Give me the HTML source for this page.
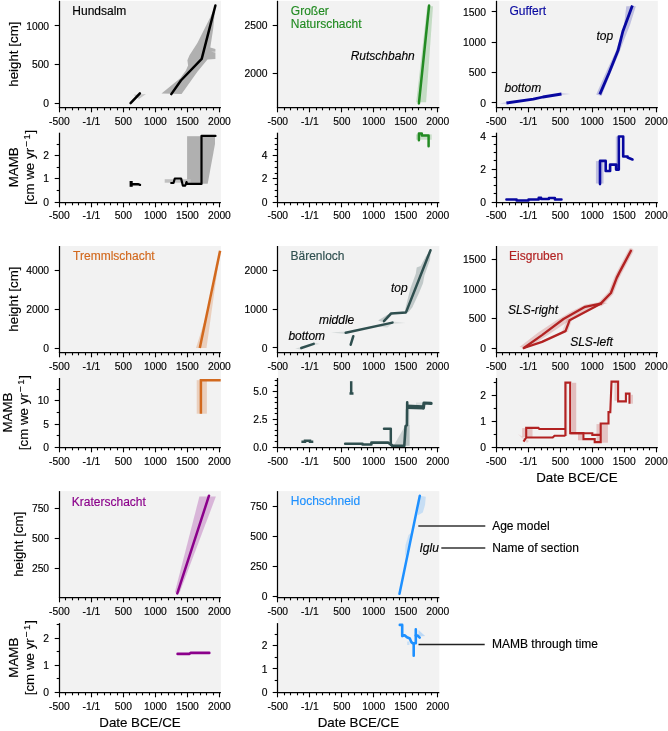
<!DOCTYPE html>
<html><head><meta charset="utf-8"><title>figure</title>
<style>
html,body{margin:0;padding:0;background:#fff;}
body{width:668px;height:731px;overflow:hidden;}
svg{display:block;font-family:"Liberation Sans", sans-serif;will-change:transform;}
</style></head><body>
<svg width="668" height="731" viewBox="0 0 668 731">
<rect x="0" y="0" width="668" height="731" fill="#fff"/>
<rect x="59.4" y="0.8" width="161.5" height="201.2" fill="#f2f2f2"/>
<rect x="277.8" y="0.8" width="161.5" height="201.2" fill="#f2f2f2"/>
<rect x="496.3" y="0.8" width="161.5" height="201.2" fill="#f2f2f2"/>
<rect x="59.4" y="246" width="161.5" height="201.2" fill="#f2f2f2"/>
<rect x="277.8" y="246" width="161.5" height="201.2" fill="#f2f2f2"/>
<rect x="496.3" y="246" width="161.5" height="201.2" fill="#f2f2f2"/>
<rect x="59.4" y="491.1" width="161.5" height="201.2" fill="#f2f2f2"/>
<rect x="277.8" y="491.1" width="161.5" height="201.2" fill="#f2f2f2"/>
<polygon points="161.5,93.4 180.2,78.3 185.9,70.4 188.1,65.4 187.4,60.3 189.5,55.3 197.4,43.1 210.3,17.2 215.4,5.5 213.2,28.7 210.3,47.4 215.4,48.9 215.4,51.7 211,51.7 215.4,52.4 215.4,58.9 207.5,59.6 197.4,71.8 183,92 181.6,94.1" fill="#b0b0b0"/>
<polygon points="133.5,94.8 146,93.9 139,99" fill="#c8c8c8"/>
<polyline points="130.6,103.2 139.9,93.3" fill="none" stroke="#000000" stroke-width="2.5" stroke-linecap="round" stroke-linejoin="round"/>
<polyline points="171.3,94.1 180.9,80.5 201.7,58.9 215.4,5.5" fill="none" stroke="#000000" stroke-width="2.5" stroke-linecap="round" stroke-linejoin="round"/>
<rect x="187.1" y="136.2" width="14.4" height="47.6" fill="#b0b0b0"/>
<polygon points="201.5,136 215,136 215,143.9 207.7,183.8 201.5,183.8" fill="#b0b0b0"/>
<rect x="164.7" y="179.2" width="25.9" height="3.5" fill="#c0c0c0"/>
<rect x="129.6" y="181" width="3.1" height="5.8" fill="#000000"/>
<polyline points="132,184.2 138,184.2 140,184.8" fill="none" stroke="#000000" stroke-width="2.4" stroke-linecap="round" stroke-linejoin="round"/>
<polyline points="171.2,183 173.5,183 174.8,178.5 181.1,178.5 182.9,185.7 185.2,185.7 186.5,182.1 187,183.9 201.5,183.9 201.5,135.9 215.5,135.9" fill="none" stroke="#000000" stroke-width="2.2" stroke-linecap="round" stroke-linejoin="round"/>
<text x="72.3" y="14.7" font-size="12" text-anchor="start" fill="#000" stroke="#000" stroke-width="0.15">Hundsalm</text>
<polygon points="416.2,102.2 426.1,102.2 433,6.3 427.2,6.3" fill="#228b22" fill-opacity="0.22"/>
<polyline points="418.9,103.4 429.1,5.5" fill="none" stroke="#228b22" stroke-width="2.5" stroke-linecap="round" stroke-linejoin="round"/>
<text x="290.8" y="15.4" font-size="12" text-anchor="start" fill="#228b22" stroke="#228b22" stroke-width="0.15">Gro&#223;er</text>
<text x="290.8" y="28.2" font-size="12" text-anchor="start" fill="#228b22" stroke="#228b22" stroke-width="0.15">Naturschacht</text>
<text x="350.7" y="60.2" font-size="12" text-anchor="start" fill="#000" font-style="italic" stroke="#000" stroke-width="0.15">Rutschbahn</text>
<rect x="416" y="134.4" width="15.7" height="5.3" fill="#228b22" fill-opacity="0.2"/>
<polyline points="418.9,140.2 418.9,133.6 421.8,133.6 421.8,135.5 428.6,135.5 428.6,146.2" fill="none" stroke="#228b22" stroke-width="2.5" stroke-linecap="round" stroke-linejoin="round"/>
<polygon points="499.8,103.6 506.4,102 506.4,104" fill="#0808a0" fill-opacity="0.15"/>
<polygon points="561.5,93 570.4,94 561.5,95" fill="#0808a0" fill-opacity="0.15"/>
<polyline points="506.4,103 533.3,99.1 542.9,97 561.5,94" fill="none" stroke="#0808a0" stroke-width="2.8" stroke-linecap="butt" stroke-linejoin="round"/>
<polygon points="626.3,6.2 635.8,6.2 630,25 624,40 619.5,52 611,72 601.5,96 596.2,94.4 607,70 615.5,52 621.5,34.2 624,25" fill="#0808a0" fill-opacity="0.22"/>
<polyline points="599.8,94.4 609.2,72.5 618,50.6 622.8,31.5 632.4,5.5" fill="none" stroke="#0808a0" stroke-width="2.8" stroke-linecap="butt" stroke-linejoin="round"/>
<text x="509.5" y="14.8" font-size="12" text-anchor="start" fill="#0808a0" stroke="#0808a0" stroke-width="0.15">Guffert</text>
<text x="504.5" y="92.2" font-size="12" text-anchor="start" fill="#000" font-style="italic" stroke="#000" stroke-width="0.15">bottom</text>
<text x="596.5" y="39.6" font-size="12" text-anchor="start" fill="#000" font-style="italic" stroke="#000" stroke-width="0.15">top</text>
<rect x="595.9" y="161.1" width="7.6" height="22.4" fill="#0808a0" fill-opacity="0.22"/>
<rect x="615.8" y="136.5" width="1.5" height="33.5" fill="#0808a0" fill-opacity="0.2"/>
<polyline points="600,184.1 600,160.9 605.7,160.9 605.7,171 610.1,171 610.1,164.6 616.1,164.6 616.1,169.6 618.8,169.6 618.8,136.5 623.2,136.5 623.2,156.5 627.6,156.5 627.6,157.5 632.5,159.5" fill="none" stroke="#0808a0" stroke-width="2.6" stroke-linecap="round" stroke-linejoin="round"/>
<polyline points="506.4,199.4 516.6,199.4 516.6,200.4 528.5,200.4 528.5,199.6 538.7,199.6 538.7,197.7 541.1,197.7 541.1,199 548.9,199 548.9,198.1 554.9,198.1 554.9,199.4 561.5,199.4" fill="none" stroke="#0808a0" stroke-width="2.5" stroke-linecap="round" stroke-linejoin="round"/>
<polygon points="196,348 206.5,348 215.6,283 220.1,251 211,300" fill="#d2691e" fill-opacity="0.25"/>
<polyline points="199.8,348 220.1,250.7" fill="none" stroke="#d2691e" stroke-width="2.5" stroke-linecap="butt" stroke-linejoin="round"/>
<text x="73.1" y="260" font-size="12" text-anchor="start" fill="#d2691e" stroke="#d2691e" stroke-width="0.15">Tremmlschacht</text>
<rect x="196.7" y="380.2" width="10.2" height="33.5" fill="#d2691e" fill-opacity="0.25"/>
<polyline points="200.9,413.7 200.9,380.2 220.7,380.2" fill="none" stroke="#d2691e" stroke-width="2.5" stroke-linecap="butt" stroke-linejoin="miter"/>
<polygon points="295.1,348.6 302,347 302,349.8" fill="#2f4f4f" fill-opacity="0.15"/>
<polygon points="313.5,342.6 319.8,343.9 313.5,345" fill="#2f4f4f" fill-opacity="0.15"/>
<polyline points="301.3,348 313.7,343.9" fill="none" stroke="#2f4f4f" stroke-width="2.5" stroke-linecap="round" stroke-linejoin="round"/>
<polygon points="331.1,332.4 345.7,331.4 345.7,334" fill="#2f4f4f" fill-opacity="0.15"/>
<polygon points="392.5,321.5 405.7,322.9 392.5,323.8" fill="#2f4f4f" fill-opacity="0.12"/>
<polygon points="378.1,320.6 387.4,314.8 404.9,311.3 405.7,307.2 410.5,288.1 415.8,273.7 416.7,267.5 420.6,266.1 425.8,256.5 430.6,250.3 430.1,259.4 427.8,266.1 424.4,275.6 423,283.3 419.1,292.8 412.4,307.2 408.6,312 393.3,313.6 387.4,319.4 381.6,321.7" fill="#2f4f4f" fill-opacity="0.25"/>
<polygon points="377,326.4 392,321.5 392,323.5 387.4,327.6" fill="#2f4f4f" fill-opacity="0.15"/>
<polyline points="345.7,332.8 392.5,322.6" fill="none" stroke="#2f4f4f" stroke-width="2.5" stroke-linecap="round" stroke-linejoin="round"/>
<polyline points="350.7,344.7 353.3,336.2" fill="none" stroke="#2f4f4f" stroke-width="2.5" stroke-linecap="round" stroke-linejoin="round"/>
<polyline points="384,321.2 390.9,313.6 406,312.4 430.5,250.2" fill="none" stroke="#2f4f4f" stroke-width="2.5" stroke-linecap="round" stroke-linejoin="round"/>
<text x="290.5" y="260" font-size="12" text-anchor="start" fill="#2f4f4f" stroke="#2f4f4f" stroke-width="0.15">B&#228;renloch</text>
<text x="288.4" y="340.2" font-size="12" text-anchor="start" fill="#000" font-style="italic" stroke="#000" stroke-width="0.15">bottom</text>
<text x="318.9" y="324.2" font-size="12" text-anchor="start" fill="#000" font-style="italic" stroke="#000" stroke-width="0.15">middle</text>
<text x="390.9" y="291.7" font-size="12" text-anchor="start" fill="#000" font-style="italic" stroke="#000" stroke-width="0.15">top</text>
<polygon points="393.5,445.8 405.6,425.1 409.6,425.1 409.6,445.8" fill="#2f4f4f" fill-opacity="0.2"/>
<rect x="405" y="409.4" width="4.6" height="36.4" fill="#2f4f4f" fill-opacity="0.12"/>
<rect x="416" y="402.5" width="8" height="2.5" fill="#2f4f4f" fill-opacity="0.12"/>
<polyline points="351.2,381.2 351.2,394" fill="none" stroke="#2f4f4f" stroke-width="2.5" stroke-linecap="butt" stroke-linejoin="round"/>
<polyline points="349.5,393.5 353.5,393.5" fill="none" stroke="#2f4f4f" stroke-width="2.5" stroke-linecap="butt" stroke-linejoin="round"/>
<polyline points="301.4,441.8 305,441.8 305,440.8 310,440.8 310,441.8 313.3,441.8" fill="none" stroke="#2f4f4f" stroke-width="2.5" stroke-linecap="butt" stroke-linejoin="miter"/>
<polyline points="345.2,443.8 362.5,443.8 362.5,444.5 371.4,444.5 371.4,442.6 388.1,442.6 392.1,445.8 404.3,445.8 405.6,426 407,425.1 407.2,402.4 407.2,406.5" fill="none" stroke="#2f4f4f" stroke-width="2.6" stroke-linecap="round" stroke-linejoin="round"/>
<polygon points="406.5,404.4 423.8,405.3 423.8,409.4 406.5,409" fill="#2f4f4f"/>
<polyline points="423.4,408 424,403 431.1,403.4" fill="none" stroke="#2f4f4f" stroke-width="3.2" stroke-linecap="round" stroke-linejoin="round"/>
<polyline points="384,428.7 390.8,428.7 390.8,444 392.6,445.8" fill="none" stroke="#2f4f4f" stroke-width="2.5" stroke-linecap="round" stroke-linejoin="round"/>
<polygon points="519.5,347.1 537.5,332.9 555.4,320.9 571.9,311.2 585.4,304.5 598.8,302.2 607.8,303 592.8,307.5 574.9,317.2 564.4,323.9 541.9,338.9 527,347.9" fill="#b22222" fill-opacity="0.2"/>
<polygon points="562,331.5 567,319 572,319.5 568,332" fill="#b22222" fill-opacity="0.15"/>
<polyline points="600.7,303.7 610.9,293 616.7,277.9 619.3,272.6 630.9,250.8" fill="none" stroke="#b22222" stroke-width="5" stroke-linecap="round" stroke-linejoin="round" stroke-opacity="0.2"/>
<polyline points="523.8,348 542,335.1 563.5,319 585.1,306.8 600.7,303.7" fill="none" stroke="#b22222" stroke-width="2.3" stroke-linecap="round" stroke-linejoin="round"/>
<polyline points="523.8,348 542,341.9 565.5,331.1 569.6,320.3 600.7,303.7" fill="none" stroke="#b22222" stroke-width="2.3" stroke-linecap="round" stroke-linejoin="round"/>
<polyline points="600.7,303.7 610.9,293 616.7,277.9 619.3,272.6 630.9,250.8" fill="none" stroke="#b22222" stroke-width="2.4" stroke-linecap="round" stroke-linejoin="round"/>
<text x="509.1" y="260.1" font-size="12" text-anchor="start" fill="#b22222" stroke="#b22222" stroke-width="0.15">Eisgruben</text>
<text x="508" y="313.9" font-size="12" text-anchor="start" fill="#000" font-style="italic" stroke="#000" stroke-width="0.15">SLS-right</text>
<text x="570.2" y="346" font-size="12" text-anchor="start" fill="#000" font-style="italic" stroke="#000" stroke-width="0.15">SLS-left</text>
<rect x="522.2" y="428.1" width="10.3" height="9" fill="#b22222" fill-opacity="0.22"/>
<polygon points="518,434 529,441 527,443" fill="#b22222" fill-opacity="0.15"/>
<rect x="564.8" y="382.6" width="2.4" height="53.4" fill="#b22222" fill-opacity="0.2"/>
<rect x="572" y="382.8" width="4.2" height="50.9" fill="#b22222" fill-opacity="0.25"/>
<rect x="578" y="433" width="4.2" height="7.3" fill="#b22222" fill-opacity="0.25"/>
<rect x="596.5" y="424.1" width="11.4" height="18.6" fill="#b22222" fill-opacity="0.22"/>
<rect x="614.5" y="381.6" width="2.4" height="19.2" fill="#b22222" fill-opacity="0.2"/>
<rect x="630.7" y="394.8" width="2.3" height="8.9" fill="#b22222" fill-opacity="0.2"/>
<polyline points="523.5,441.6 526.2,437.5 526.2,427.9 538.4,427.9 539.3,429 565.4,429" fill="none" stroke="#b22222" stroke-width="2.1" stroke-linecap="butt" stroke-linejoin="miter"/>
<polyline points="526.2,437.5 552.7,437.5 554.5,435.7 565.4,435.7" fill="none" stroke="#b22222" stroke-width="2.1" stroke-linecap="butt" stroke-linejoin="miter"/>
<polyline points="565.4,436 565.4,382.6 570.2,382.6 570.2,433.1 583.4,433.1 583.4,439.1 594.7,439.1 594.7,442.1 600.7,442.1 600.7,423.5 608.5,423.5 608.5,412.1 610.3,412.1 611.5,381.6 618.1,381.6 618.1,401.4 625.9,401.4 625.9,393.6 629.5,393.6 629.5,403.7" fill="none" stroke="#b22222" stroke-width="2.1" stroke-linecap="butt" stroke-linejoin="miter"/>
<polyline points="570.2,433.3 592.3,433.3 592.3,434.9 600.7,434.9" fill="none" stroke="#b22222" stroke-width="2.1" stroke-linecap="butt" stroke-linejoin="miter"/>
<polygon points="174.8,592.6 179.7,592.6 215.9,496.5 199.4,496.5" fill="#8b008b" fill-opacity="0.25"/>
<polyline points="177.3,593.4 209,495.7" fill="none" stroke="#8b008b" stroke-width="2.5" stroke-linecap="round" stroke-linejoin="round"/>
<text x="71.8" y="506.4" font-size="12" text-anchor="start" fill="#8b008b" stroke="#8b008b" stroke-width="0.15">Kraterschacht</text>
<polyline points="177.6,653.9 189.5,653.9 190.5,652.9 209.3,652.9" fill="none" stroke="#8b008b" stroke-width="2.6" stroke-linecap="round" stroke-linejoin="round"/>
<polygon points="419.8,495.7 425.8,496.8 425,505 422.8,512.6 417.6,515.6" fill="#1e90ff" fill-opacity="0.2"/>
<polygon points="411.2,533 408.5,535 405.5,545 404.8,557.2 409,545" fill="#1e90ff" fill-opacity="0.18"/>
<polyline points="399.5,593.8 419.8,495.7" fill="none" stroke="#1e90ff" stroke-width="2.5" stroke-linecap="round" stroke-linejoin="round"/>
<text x="290.8" y="504.5" font-size="12" text-anchor="start" fill="#1e90ff" stroke="#1e90ff" stroke-width="0.15">Hochschneid</text>
<text x="419.5" y="552.3" font-size="12" text-anchor="start" fill="#000" font-style="italic" stroke="#000" stroke-width="0.15">Iglu</text>
<line x1="418.3" y1="526" x2="485.3" y2="526" stroke="#333" stroke-width="1.5"/>
<line x1="441.3" y1="548.1" x2="485.3" y2="548.1" stroke="#333" stroke-width="1.5"/>
<text x="492.2" y="529.5" font-size="12" text-anchor="start" fill="#000" stroke="#000" stroke-width="0.15">Age model</text>
<text x="492.2" y="551.9" font-size="12" text-anchor="start" fill="#000" stroke="#000" stroke-width="0.15">Name of section</text>
<polygon points="418.5,630 425.1,636.1 418.5,636.5" fill="#1e90ff" fill-opacity="0.25"/>
<rect x="407.2" y="641.5" width="2.3" height="3.5" fill="#1e90ff" fill-opacity="0.2"/>
<polyline points="399.8,624.9 402.2,624.9 402.2,636.1 404.6,635.2 407,637.3 409.8,638.5 411.3,642.1 413.7,643.9 413.7,655.7" fill="none" stroke="#1e90ff" stroke-width="2.6" stroke-linecap="round" stroke-linejoin="round"/>
<polyline points="413.7,643.3 415.8,643.3 415.8,629.4" fill="none" stroke="#1e90ff" stroke-width="2.6" stroke-linecap="round" stroke-linejoin="round"/>
<polyline points="415.8,635.5 417.5,635.5 419.7,637.6" fill="none" stroke="#1e90ff" stroke-width="2.6" stroke-linecap="round" stroke-linejoin="round"/>
<line x1="418.5" y1="644.5" x2="484.7" y2="644.5" stroke="#222" stroke-width="1.4"/>
<text x="492" y="647.9" font-size="12" text-anchor="start" fill="#000" stroke="#000" stroke-width="0.15">MAMB through time</text>
<line x1="59.5" y1="0.8" x2="59.5" y2="108.1" stroke="#000" stroke-width="1.25"/>
<line x1="54.7" y1="103.5" x2="59.5" y2="103.5" stroke="#000" stroke-width="1.1"/>
<text x="49.1" y="106.7" font-size="10.3" text-anchor="end" fill="#000" stroke="#000" stroke-width="0.15">0</text>
<line x1="54.7" y1="64.5" x2="59.5" y2="64.5" stroke="#000" stroke-width="1.1"/>
<text x="49.1" y="68.1" font-size="10.3" text-anchor="end" fill="#000" stroke="#000" stroke-width="0.15">500</text>
<line x1="54.7" y1="25.5" x2="59.5" y2="25.5" stroke="#000" stroke-width="1.1"/>
<text x="49.1" y="29.5" font-size="10.3" text-anchor="end" fill="#000" stroke="#000" stroke-width="0.15">1000</text>
<line x1="58.9" y1="107.5" x2="220.9" y2="107.5" stroke="#000" stroke-width="1.25"/>
<line x1="59.5" y1="107.5" x2="59.5" y2="112.3" stroke="#000" stroke-width="1.1"/>
<line x1="65.5" y1="107.5" x2="65.5" y2="110.3" stroke="#000" stroke-width="1.1"/>
<line x1="72.5" y1="107.5" x2="72.5" y2="110.3" stroke="#000" stroke-width="1.1"/>
<line x1="78.5" y1="107.5" x2="78.5" y2="110.3" stroke="#000" stroke-width="1.1"/>
<line x1="85.5" y1="107.5" x2="85.5" y2="110.3" stroke="#000" stroke-width="1.1"/>
<line x1="91.5" y1="107.5" x2="91.5" y2="112.3" stroke="#000" stroke-width="1.1"/>
<line x1="97.5" y1="107.5" x2="97.5" y2="110.3" stroke="#000" stroke-width="1.1"/>
<line x1="104.5" y1="107.5" x2="104.5" y2="110.3" stroke="#000" stroke-width="1.1"/>
<line x1="110.5" y1="107.5" x2="110.5" y2="110.3" stroke="#000" stroke-width="1.1"/>
<line x1="117.5" y1="107.5" x2="117.5" y2="110.3" stroke="#000" stroke-width="1.1"/>
<line x1="123.5" y1="107.5" x2="123.5" y2="112.3" stroke="#000" stroke-width="1.1"/>
<line x1="129.5" y1="107.5" x2="129.5" y2="110.3" stroke="#000" stroke-width="1.1"/>
<line x1="136.5" y1="107.5" x2="136.5" y2="110.3" stroke="#000" stroke-width="1.1"/>
<line x1="142.5" y1="107.5" x2="142.5" y2="110.3" stroke="#000" stroke-width="1.1"/>
<line x1="149.5" y1="107.5" x2="149.5" y2="110.3" stroke="#000" stroke-width="1.1"/>
<line x1="155.5" y1="107.5" x2="155.5" y2="112.3" stroke="#000" stroke-width="1.1"/>
<line x1="161.5" y1="107.5" x2="161.5" y2="110.3" stroke="#000" stroke-width="1.1"/>
<line x1="168.5" y1="107.5" x2="168.5" y2="110.3" stroke="#000" stroke-width="1.1"/>
<line x1="174.5" y1="107.5" x2="174.5" y2="110.3" stroke="#000" stroke-width="1.1"/>
<line x1="181.5" y1="107.5" x2="181.5" y2="110.3" stroke="#000" stroke-width="1.1"/>
<line x1="187.5" y1="107.5" x2="187.5" y2="112.3" stroke="#000" stroke-width="1.1"/>
<line x1="193.5" y1="107.5" x2="193.5" y2="110.3" stroke="#000" stroke-width="1.1"/>
<line x1="200.5" y1="107.5" x2="200.5" y2="110.3" stroke="#000" stroke-width="1.1"/>
<line x1="206.5" y1="107.5" x2="206.5" y2="110.3" stroke="#000" stroke-width="1.1"/>
<line x1="213.5" y1="107.5" x2="213.5" y2="110.3" stroke="#000" stroke-width="1.1"/>
<line x1="219.5" y1="107.5" x2="219.5" y2="112.3" stroke="#000" stroke-width="1.1"/>
<text x="59.4" y="124.7" font-size="10.3" text-anchor="middle" fill="#000" stroke="#000" stroke-width="0.15">-500</text>
<text x="91.4" y="124.7" font-size="10.3" text-anchor="middle" fill="#000" stroke="#000" stroke-width="0.15">-1/1</text>
<text x="123.4" y="124.7" font-size="10.3" text-anchor="middle" fill="#000" stroke="#000" stroke-width="0.15">500</text>
<text x="155.4" y="124.7" font-size="10.3" text-anchor="middle" fill="#000" stroke="#000" stroke-width="0.15">1000</text>
<text x="187.4" y="124.7" font-size="10.3" text-anchor="middle" fill="#000" stroke="#000" stroke-width="0.15">1500</text>
<text x="219.4" y="124.7" font-size="10.3" text-anchor="middle" fill="#000" stroke="#000" stroke-width="0.15">2000</text>
<line x1="59.5" y1="132.7" x2="59.5" y2="203.1" stroke="#000" stroke-width="1.25"/>
<line x1="54.7" y1="202.5" x2="59.5" y2="202.5" stroke="#000" stroke-width="1.1"/>
<text x="49.1" y="205.6" font-size="10.3" text-anchor="end" fill="#000" stroke="#000" stroke-width="0.15">0</text>
<line x1="54.7" y1="178.5" x2="59.5" y2="178.5" stroke="#000" stroke-width="1.1"/>
<text x="49.1" y="182.4" font-size="10.3" text-anchor="end" fill="#000" stroke="#000" stroke-width="0.15">1</text>
<line x1="54.7" y1="155.5" x2="59.5" y2="155.5" stroke="#000" stroke-width="1.1"/>
<text x="49.1" y="159.2" font-size="10.3" text-anchor="end" fill="#000" stroke="#000" stroke-width="0.15">2</text>
<line x1="56.7" y1="190.5" x2="59.5" y2="190.5" stroke="#000" stroke-width="1.1"/>
<line x1="56.7" y1="167.5" x2="59.5" y2="167.5" stroke="#000" stroke-width="1.1"/>
<line x1="56.7" y1="144.5" x2="59.5" y2="144.5" stroke="#000" stroke-width="1.1"/>
<line x1="58.9" y1="202.5" x2="220.9" y2="202.5" stroke="#000" stroke-width="1.25"/>
<line x1="59.5" y1="202.5" x2="59.5" y2="207.3" stroke="#000" stroke-width="1.1"/>
<line x1="65.5" y1="202.5" x2="65.5" y2="205.3" stroke="#000" stroke-width="1.1"/>
<line x1="72.5" y1="202.5" x2="72.5" y2="205.3" stroke="#000" stroke-width="1.1"/>
<line x1="78.5" y1="202.5" x2="78.5" y2="205.3" stroke="#000" stroke-width="1.1"/>
<line x1="85.5" y1="202.5" x2="85.5" y2="205.3" stroke="#000" stroke-width="1.1"/>
<line x1="91.5" y1="202.5" x2="91.5" y2="207.3" stroke="#000" stroke-width="1.1"/>
<line x1="97.5" y1="202.5" x2="97.5" y2="205.3" stroke="#000" stroke-width="1.1"/>
<line x1="104.5" y1="202.5" x2="104.5" y2="205.3" stroke="#000" stroke-width="1.1"/>
<line x1="110.5" y1="202.5" x2="110.5" y2="205.3" stroke="#000" stroke-width="1.1"/>
<line x1="117.5" y1="202.5" x2="117.5" y2="205.3" stroke="#000" stroke-width="1.1"/>
<line x1="123.5" y1="202.5" x2="123.5" y2="207.3" stroke="#000" stroke-width="1.1"/>
<line x1="129.5" y1="202.5" x2="129.5" y2="205.3" stroke="#000" stroke-width="1.1"/>
<line x1="136.5" y1="202.5" x2="136.5" y2="205.3" stroke="#000" stroke-width="1.1"/>
<line x1="142.5" y1="202.5" x2="142.5" y2="205.3" stroke="#000" stroke-width="1.1"/>
<line x1="149.5" y1="202.5" x2="149.5" y2="205.3" stroke="#000" stroke-width="1.1"/>
<line x1="155.5" y1="202.5" x2="155.5" y2="207.3" stroke="#000" stroke-width="1.1"/>
<line x1="161.5" y1="202.5" x2="161.5" y2="205.3" stroke="#000" stroke-width="1.1"/>
<line x1="168.5" y1="202.5" x2="168.5" y2="205.3" stroke="#000" stroke-width="1.1"/>
<line x1="174.5" y1="202.5" x2="174.5" y2="205.3" stroke="#000" stroke-width="1.1"/>
<line x1="181.5" y1="202.5" x2="181.5" y2="205.3" stroke="#000" stroke-width="1.1"/>
<line x1="187.5" y1="202.5" x2="187.5" y2="207.3" stroke="#000" stroke-width="1.1"/>
<line x1="193.5" y1="202.5" x2="193.5" y2="205.3" stroke="#000" stroke-width="1.1"/>
<line x1="200.5" y1="202.5" x2="200.5" y2="205.3" stroke="#000" stroke-width="1.1"/>
<line x1="206.5" y1="202.5" x2="206.5" y2="205.3" stroke="#000" stroke-width="1.1"/>
<line x1="213.5" y1="202.5" x2="213.5" y2="205.3" stroke="#000" stroke-width="1.1"/>
<line x1="219.5" y1="202.5" x2="219.5" y2="207.3" stroke="#000" stroke-width="1.1"/>
<text x="59.4" y="219.2" font-size="10.3" text-anchor="middle" fill="#000" stroke="#000" stroke-width="0.15">-500</text>
<text x="91.4" y="219.2" font-size="10.3" text-anchor="middle" fill="#000" stroke="#000" stroke-width="0.15">-1/1</text>
<text x="123.4" y="219.2" font-size="10.3" text-anchor="middle" fill="#000" stroke="#000" stroke-width="0.15">500</text>
<text x="155.4" y="219.2" font-size="10.3" text-anchor="middle" fill="#000" stroke="#000" stroke-width="0.15">1000</text>
<text x="187.4" y="219.2" font-size="10.3" text-anchor="middle" fill="#000" stroke="#000" stroke-width="0.15">1500</text>
<text x="219.4" y="219.2" font-size="10.3" text-anchor="middle" fill="#000" stroke="#000" stroke-width="0.15">2000</text>
<line x1="277.5" y1="0.8" x2="277.5" y2="108.1" stroke="#000" stroke-width="1.25"/>
<line x1="272.7" y1="73.5" x2="277.5" y2="73.5" stroke="#000" stroke-width="1.1"/>
<text x="267.5" y="77.4" font-size="10.3" text-anchor="end" fill="#000" stroke="#000" stroke-width="0.15">2000</text>
<line x1="272.7" y1="25.5" x2="277.5" y2="25.5" stroke="#000" stroke-width="1.1"/>
<text x="267.5" y="28.8" font-size="10.3" text-anchor="end" fill="#000" stroke="#000" stroke-width="0.15">2500</text>
<line x1="276.9" y1="107.5" x2="439.3" y2="107.5" stroke="#000" stroke-width="1.25"/>
<line x1="277.5" y1="107.5" x2="277.5" y2="112.3" stroke="#000" stroke-width="1.1"/>
<line x1="284.5" y1="107.5" x2="284.5" y2="110.3" stroke="#000" stroke-width="1.1"/>
<line x1="290.5" y1="107.5" x2="290.5" y2="110.3" stroke="#000" stroke-width="1.1"/>
<line x1="297.5" y1="107.5" x2="297.5" y2="110.3" stroke="#000" stroke-width="1.1"/>
<line x1="303.5" y1="107.5" x2="303.5" y2="110.3" stroke="#000" stroke-width="1.1"/>
<line x1="309.5" y1="107.5" x2="309.5" y2="112.3" stroke="#000" stroke-width="1.1"/>
<line x1="316.5" y1="107.5" x2="316.5" y2="110.3" stroke="#000" stroke-width="1.1"/>
<line x1="322.5" y1="107.5" x2="322.5" y2="110.3" stroke="#000" stroke-width="1.1"/>
<line x1="329.5" y1="107.5" x2="329.5" y2="110.3" stroke="#000" stroke-width="1.1"/>
<line x1="335.5" y1="107.5" x2="335.5" y2="110.3" stroke="#000" stroke-width="1.1"/>
<line x1="341.5" y1="107.5" x2="341.5" y2="112.3" stroke="#000" stroke-width="1.1"/>
<line x1="348.5" y1="107.5" x2="348.5" y2="110.3" stroke="#000" stroke-width="1.1"/>
<line x1="354.5" y1="107.5" x2="354.5" y2="110.3" stroke="#000" stroke-width="1.1"/>
<line x1="361.5" y1="107.5" x2="361.5" y2="110.3" stroke="#000" stroke-width="1.1"/>
<line x1="367.5" y1="107.5" x2="367.5" y2="110.3" stroke="#000" stroke-width="1.1"/>
<line x1="373.5" y1="107.5" x2="373.5" y2="112.3" stroke="#000" stroke-width="1.1"/>
<line x1="380.5" y1="107.5" x2="380.5" y2="110.3" stroke="#000" stroke-width="1.1"/>
<line x1="386.5" y1="107.5" x2="386.5" y2="110.3" stroke="#000" stroke-width="1.1"/>
<line x1="393.5" y1="107.5" x2="393.5" y2="110.3" stroke="#000" stroke-width="1.1"/>
<line x1="399.5" y1="107.5" x2="399.5" y2="110.3" stroke="#000" stroke-width="1.1"/>
<line x1="405.5" y1="107.5" x2="405.5" y2="112.3" stroke="#000" stroke-width="1.1"/>
<line x1="412.5" y1="107.5" x2="412.5" y2="110.3" stroke="#000" stroke-width="1.1"/>
<line x1="418.5" y1="107.5" x2="418.5" y2="110.3" stroke="#000" stroke-width="1.1"/>
<line x1="425.5" y1="107.5" x2="425.5" y2="110.3" stroke="#000" stroke-width="1.1"/>
<line x1="431.5" y1="107.5" x2="431.5" y2="110.3" stroke="#000" stroke-width="1.1"/>
<line x1="437.5" y1="107.5" x2="437.5" y2="112.3" stroke="#000" stroke-width="1.1"/>
<text x="277.8" y="124.7" font-size="10.3" text-anchor="middle" fill="#000" stroke="#000" stroke-width="0.15">-500</text>
<text x="309.8" y="124.7" font-size="10.3" text-anchor="middle" fill="#000" stroke="#000" stroke-width="0.15">-1/1</text>
<text x="341.8" y="124.7" font-size="10.3" text-anchor="middle" fill="#000" stroke="#000" stroke-width="0.15">500</text>
<text x="373.8" y="124.7" font-size="10.3" text-anchor="middle" fill="#000" stroke="#000" stroke-width="0.15">1000</text>
<text x="405.8" y="124.7" font-size="10.3" text-anchor="middle" fill="#000" stroke="#000" stroke-width="0.15">1500</text>
<text x="437.8" y="124.7" font-size="10.3" text-anchor="middle" fill="#000" stroke="#000" stroke-width="0.15">2000</text>
<line x1="277.5" y1="132.7" x2="277.5" y2="203.1" stroke="#000" stroke-width="1.25"/>
<line x1="272.7" y1="202.5" x2="277.5" y2="202.5" stroke="#000" stroke-width="1.1"/>
<text x="267.5" y="205.6" font-size="10.3" text-anchor="end" fill="#000" stroke="#000" stroke-width="0.15">0</text>
<line x1="272.7" y1="178.5" x2="277.5" y2="178.5" stroke="#000" stroke-width="1.1"/>
<text x="267.5" y="182.4" font-size="10.3" text-anchor="end" fill="#000" stroke="#000" stroke-width="0.15">2</text>
<line x1="272.7" y1="155.5" x2="277.5" y2="155.5" stroke="#000" stroke-width="1.1"/>
<text x="267.5" y="159.2" font-size="10.3" text-anchor="end" fill="#000" stroke="#000" stroke-width="0.15">4</text>
<line x1="274.7" y1="196.5" x2="277.5" y2="196.5" stroke="#000" stroke-width="1.1"/>
<line x1="274.7" y1="190.5" x2="277.5" y2="190.5" stroke="#000" stroke-width="1.1"/>
<line x1="274.7" y1="184.5" x2="277.5" y2="184.5" stroke="#000" stroke-width="1.1"/>
<line x1="274.7" y1="173.5" x2="277.5" y2="173.5" stroke="#000" stroke-width="1.1"/>
<line x1="274.7" y1="167.5" x2="277.5" y2="167.5" stroke="#000" stroke-width="1.1"/>
<line x1="274.7" y1="161.5" x2="277.5" y2="161.5" stroke="#000" stroke-width="1.1"/>
<line x1="274.7" y1="149.5" x2="277.5" y2="149.5" stroke="#000" stroke-width="1.1"/>
<line x1="274.7" y1="144.5" x2="277.5" y2="144.5" stroke="#000" stroke-width="1.1"/>
<line x1="274.7" y1="138.5" x2="277.5" y2="138.5" stroke="#000" stroke-width="1.1"/>
<line x1="276.9" y1="202.5" x2="439.3" y2="202.5" stroke="#000" stroke-width="1.25"/>
<line x1="277.5" y1="202.5" x2="277.5" y2="207.3" stroke="#000" stroke-width="1.1"/>
<line x1="284.5" y1="202.5" x2="284.5" y2="205.3" stroke="#000" stroke-width="1.1"/>
<line x1="290.5" y1="202.5" x2="290.5" y2="205.3" stroke="#000" stroke-width="1.1"/>
<line x1="297.5" y1="202.5" x2="297.5" y2="205.3" stroke="#000" stroke-width="1.1"/>
<line x1="303.5" y1="202.5" x2="303.5" y2="205.3" stroke="#000" stroke-width="1.1"/>
<line x1="309.5" y1="202.5" x2="309.5" y2="207.3" stroke="#000" stroke-width="1.1"/>
<line x1="316.5" y1="202.5" x2="316.5" y2="205.3" stroke="#000" stroke-width="1.1"/>
<line x1="322.5" y1="202.5" x2="322.5" y2="205.3" stroke="#000" stroke-width="1.1"/>
<line x1="329.5" y1="202.5" x2="329.5" y2="205.3" stroke="#000" stroke-width="1.1"/>
<line x1="335.5" y1="202.5" x2="335.5" y2="205.3" stroke="#000" stroke-width="1.1"/>
<line x1="341.5" y1="202.5" x2="341.5" y2="207.3" stroke="#000" stroke-width="1.1"/>
<line x1="348.5" y1="202.5" x2="348.5" y2="205.3" stroke="#000" stroke-width="1.1"/>
<line x1="354.5" y1="202.5" x2="354.5" y2="205.3" stroke="#000" stroke-width="1.1"/>
<line x1="361.5" y1="202.5" x2="361.5" y2="205.3" stroke="#000" stroke-width="1.1"/>
<line x1="367.5" y1="202.5" x2="367.5" y2="205.3" stroke="#000" stroke-width="1.1"/>
<line x1="373.5" y1="202.5" x2="373.5" y2="207.3" stroke="#000" stroke-width="1.1"/>
<line x1="380.5" y1="202.5" x2="380.5" y2="205.3" stroke="#000" stroke-width="1.1"/>
<line x1="386.5" y1="202.5" x2="386.5" y2="205.3" stroke="#000" stroke-width="1.1"/>
<line x1="393.5" y1="202.5" x2="393.5" y2="205.3" stroke="#000" stroke-width="1.1"/>
<line x1="399.5" y1="202.5" x2="399.5" y2="205.3" stroke="#000" stroke-width="1.1"/>
<line x1="405.5" y1="202.5" x2="405.5" y2="207.3" stroke="#000" stroke-width="1.1"/>
<line x1="412.5" y1="202.5" x2="412.5" y2="205.3" stroke="#000" stroke-width="1.1"/>
<line x1="418.5" y1="202.5" x2="418.5" y2="205.3" stroke="#000" stroke-width="1.1"/>
<line x1="425.5" y1="202.5" x2="425.5" y2="205.3" stroke="#000" stroke-width="1.1"/>
<line x1="431.5" y1="202.5" x2="431.5" y2="205.3" stroke="#000" stroke-width="1.1"/>
<line x1="437.5" y1="202.5" x2="437.5" y2="207.3" stroke="#000" stroke-width="1.1"/>
<text x="277.8" y="219.2" font-size="10.3" text-anchor="middle" fill="#000" stroke="#000" stroke-width="0.15">-500</text>
<text x="309.8" y="219.2" font-size="10.3" text-anchor="middle" fill="#000" stroke="#000" stroke-width="0.15">-1/1</text>
<text x="341.8" y="219.2" font-size="10.3" text-anchor="middle" fill="#000" stroke="#000" stroke-width="0.15">500</text>
<text x="373.8" y="219.2" font-size="10.3" text-anchor="middle" fill="#000" stroke="#000" stroke-width="0.15">1000</text>
<text x="405.8" y="219.2" font-size="10.3" text-anchor="middle" fill="#000" stroke="#000" stroke-width="0.15">1500</text>
<text x="437.8" y="219.2" font-size="10.3" text-anchor="middle" fill="#000" stroke="#000" stroke-width="0.15">2000</text>
<line x1="496.5" y1="0.8" x2="496.5" y2="108.1" stroke="#000" stroke-width="1.25"/>
<line x1="491.7" y1="102.5" x2="496.5" y2="102.5" stroke="#000" stroke-width="1.1"/>
<text x="486" y="106.5" font-size="10.3" text-anchor="end" fill="#000" stroke="#000" stroke-width="0.15">0</text>
<line x1="491.7" y1="72.5" x2="496.5" y2="72.5" stroke="#000" stroke-width="1.1"/>
<text x="486" y="76.17" font-size="10.3" text-anchor="end" fill="#000" stroke="#000" stroke-width="0.15">500</text>
<line x1="491.7" y1="42.5" x2="496.5" y2="42.5" stroke="#000" stroke-width="1.1"/>
<text x="486" y="45.83" font-size="10.3" text-anchor="end" fill="#000" stroke="#000" stroke-width="0.15">1000</text>
<line x1="491.7" y1="11.5" x2="496.5" y2="11.5" stroke="#000" stroke-width="1.1"/>
<text x="486" y="15.5" font-size="10.3" text-anchor="end" fill="#000" stroke="#000" stroke-width="0.15">1500</text>
<line x1="495.9" y1="107.5" x2="657.8" y2="107.5" stroke="#000" stroke-width="1.25"/>
<line x1="496.5" y1="107.5" x2="496.5" y2="112.3" stroke="#000" stroke-width="1.1"/>
<line x1="502.5" y1="107.5" x2="502.5" y2="110.3" stroke="#000" stroke-width="1.1"/>
<line x1="509.5" y1="107.5" x2="509.5" y2="110.3" stroke="#000" stroke-width="1.1"/>
<line x1="515.5" y1="107.5" x2="515.5" y2="110.3" stroke="#000" stroke-width="1.1"/>
<line x1="521.5" y1="107.5" x2="521.5" y2="110.3" stroke="#000" stroke-width="1.1"/>
<line x1="528.5" y1="107.5" x2="528.5" y2="112.3" stroke="#000" stroke-width="1.1"/>
<line x1="534.5" y1="107.5" x2="534.5" y2="110.3" stroke="#000" stroke-width="1.1"/>
<line x1="541.5" y1="107.5" x2="541.5" y2="110.3" stroke="#000" stroke-width="1.1"/>
<line x1="547.5" y1="107.5" x2="547.5" y2="110.3" stroke="#000" stroke-width="1.1"/>
<line x1="553.5" y1="107.5" x2="553.5" y2="110.3" stroke="#000" stroke-width="1.1"/>
<line x1="560.5" y1="107.5" x2="560.5" y2="112.3" stroke="#000" stroke-width="1.1"/>
<line x1="566.5" y1="107.5" x2="566.5" y2="110.3" stroke="#000" stroke-width="1.1"/>
<line x1="573.5" y1="107.5" x2="573.5" y2="110.3" stroke="#000" stroke-width="1.1"/>
<line x1="579.5" y1="107.5" x2="579.5" y2="110.3" stroke="#000" stroke-width="1.1"/>
<line x1="585.5" y1="107.5" x2="585.5" y2="110.3" stroke="#000" stroke-width="1.1"/>
<line x1="592.5" y1="107.5" x2="592.5" y2="112.3" stroke="#000" stroke-width="1.1"/>
<line x1="598.5" y1="107.5" x2="598.5" y2="110.3" stroke="#000" stroke-width="1.1"/>
<line x1="605.5" y1="107.5" x2="605.5" y2="110.3" stroke="#000" stroke-width="1.1"/>
<line x1="611.5" y1="107.5" x2="611.5" y2="110.3" stroke="#000" stroke-width="1.1"/>
<line x1="617.5" y1="107.5" x2="617.5" y2="110.3" stroke="#000" stroke-width="1.1"/>
<line x1="624.5" y1="107.5" x2="624.5" y2="112.3" stroke="#000" stroke-width="1.1"/>
<line x1="630.5" y1="107.5" x2="630.5" y2="110.3" stroke="#000" stroke-width="1.1"/>
<line x1="637.5" y1="107.5" x2="637.5" y2="110.3" stroke="#000" stroke-width="1.1"/>
<line x1="643.5" y1="107.5" x2="643.5" y2="110.3" stroke="#000" stroke-width="1.1"/>
<line x1="649.5" y1="107.5" x2="649.5" y2="110.3" stroke="#000" stroke-width="1.1"/>
<line x1="656.5" y1="107.5" x2="656.5" y2="112.3" stroke="#000" stroke-width="1.1"/>
<text x="496.3" y="124.7" font-size="10.3" text-anchor="middle" fill="#000" stroke="#000" stroke-width="0.15">-500</text>
<text x="528.3" y="124.7" font-size="10.3" text-anchor="middle" fill="#000" stroke="#000" stroke-width="0.15">-1/1</text>
<text x="560.3" y="124.7" font-size="10.3" text-anchor="middle" fill="#000" stroke="#000" stroke-width="0.15">500</text>
<text x="592.3" y="124.7" font-size="10.3" text-anchor="middle" fill="#000" stroke="#000" stroke-width="0.15">1000</text>
<text x="624.3" y="124.7" font-size="10.3" text-anchor="middle" fill="#000" stroke="#000" stroke-width="0.15">1500</text>
<text x="656.3" y="124.7" font-size="10.3" text-anchor="middle" fill="#000" stroke="#000" stroke-width="0.15">2000</text>
<line x1="496.5" y1="132.7" x2="496.5" y2="203.1" stroke="#000" stroke-width="1.25"/>
<line x1="491.7" y1="202.5" x2="496.5" y2="202.5" stroke="#000" stroke-width="1.1"/>
<text x="486" y="205.6" font-size="10.3" text-anchor="end" fill="#000" stroke="#000" stroke-width="0.15">0</text>
<line x1="491.7" y1="169.5" x2="496.5" y2="169.5" stroke="#000" stroke-width="1.1"/>
<text x="486" y="172.7" font-size="10.3" text-anchor="end" fill="#000" stroke="#000" stroke-width="0.15">2</text>
<line x1="491.7" y1="136.5" x2="496.5" y2="136.5" stroke="#000" stroke-width="1.1"/>
<text x="486" y="139.8" font-size="10.3" text-anchor="end" fill="#000" stroke="#000" stroke-width="0.15">4</text>
<line x1="493.7" y1="193.5" x2="496.5" y2="193.5" stroke="#000" stroke-width="1.1"/>
<line x1="493.7" y1="185.5" x2="496.5" y2="185.5" stroke="#000" stroke-width="1.1"/>
<line x1="493.7" y1="177.5" x2="496.5" y2="177.5" stroke="#000" stroke-width="1.1"/>
<line x1="493.7" y1="160.5" x2="496.5" y2="160.5" stroke="#000" stroke-width="1.1"/>
<line x1="493.7" y1="152.5" x2="496.5" y2="152.5" stroke="#000" stroke-width="1.1"/>
<line x1="493.7" y1="144.5" x2="496.5" y2="144.5" stroke="#000" stroke-width="1.1"/>
<line x1="495.9" y1="202.5" x2="657.8" y2="202.5" stroke="#000" stroke-width="1.25"/>
<line x1="496.5" y1="202.5" x2="496.5" y2="207.3" stroke="#000" stroke-width="1.1"/>
<line x1="502.5" y1="202.5" x2="502.5" y2="205.3" stroke="#000" stroke-width="1.1"/>
<line x1="509.5" y1="202.5" x2="509.5" y2="205.3" stroke="#000" stroke-width="1.1"/>
<line x1="515.5" y1="202.5" x2="515.5" y2="205.3" stroke="#000" stroke-width="1.1"/>
<line x1="521.5" y1="202.5" x2="521.5" y2="205.3" stroke="#000" stroke-width="1.1"/>
<line x1="528.5" y1="202.5" x2="528.5" y2="207.3" stroke="#000" stroke-width="1.1"/>
<line x1="534.5" y1="202.5" x2="534.5" y2="205.3" stroke="#000" stroke-width="1.1"/>
<line x1="541.5" y1="202.5" x2="541.5" y2="205.3" stroke="#000" stroke-width="1.1"/>
<line x1="547.5" y1="202.5" x2="547.5" y2="205.3" stroke="#000" stroke-width="1.1"/>
<line x1="553.5" y1="202.5" x2="553.5" y2="205.3" stroke="#000" stroke-width="1.1"/>
<line x1="560.5" y1="202.5" x2="560.5" y2="207.3" stroke="#000" stroke-width="1.1"/>
<line x1="566.5" y1="202.5" x2="566.5" y2="205.3" stroke="#000" stroke-width="1.1"/>
<line x1="573.5" y1="202.5" x2="573.5" y2="205.3" stroke="#000" stroke-width="1.1"/>
<line x1="579.5" y1="202.5" x2="579.5" y2="205.3" stroke="#000" stroke-width="1.1"/>
<line x1="585.5" y1="202.5" x2="585.5" y2="205.3" stroke="#000" stroke-width="1.1"/>
<line x1="592.5" y1="202.5" x2="592.5" y2="207.3" stroke="#000" stroke-width="1.1"/>
<line x1="598.5" y1="202.5" x2="598.5" y2="205.3" stroke="#000" stroke-width="1.1"/>
<line x1="605.5" y1="202.5" x2="605.5" y2="205.3" stroke="#000" stroke-width="1.1"/>
<line x1="611.5" y1="202.5" x2="611.5" y2="205.3" stroke="#000" stroke-width="1.1"/>
<line x1="617.5" y1="202.5" x2="617.5" y2="205.3" stroke="#000" stroke-width="1.1"/>
<line x1="624.5" y1="202.5" x2="624.5" y2="207.3" stroke="#000" stroke-width="1.1"/>
<line x1="630.5" y1="202.5" x2="630.5" y2="205.3" stroke="#000" stroke-width="1.1"/>
<line x1="637.5" y1="202.5" x2="637.5" y2="205.3" stroke="#000" stroke-width="1.1"/>
<line x1="643.5" y1="202.5" x2="643.5" y2="205.3" stroke="#000" stroke-width="1.1"/>
<line x1="649.5" y1="202.5" x2="649.5" y2="205.3" stroke="#000" stroke-width="1.1"/>
<line x1="656.5" y1="202.5" x2="656.5" y2="207.3" stroke="#000" stroke-width="1.1"/>
<text x="496.3" y="219.2" font-size="10.3" text-anchor="middle" fill="#000" stroke="#000" stroke-width="0.15">-500</text>
<text x="528.3" y="219.2" font-size="10.3" text-anchor="middle" fill="#000" stroke="#000" stroke-width="0.15">-1/1</text>
<text x="560.3" y="219.2" font-size="10.3" text-anchor="middle" fill="#000" stroke="#000" stroke-width="0.15">500</text>
<text x="592.3" y="219.2" font-size="10.3" text-anchor="middle" fill="#000" stroke="#000" stroke-width="0.15">1000</text>
<text x="624.3" y="219.2" font-size="10.3" text-anchor="middle" fill="#000" stroke="#000" stroke-width="0.15">1500</text>
<text x="656.3" y="219.2" font-size="10.3" text-anchor="middle" fill="#000" stroke="#000" stroke-width="0.15">2000</text>
<line x1="59.5" y1="246" x2="59.5" y2="353.1" stroke="#000" stroke-width="1.25"/>
<line x1="54.7" y1="348.5" x2="59.5" y2="348.5" stroke="#000" stroke-width="1.1"/>
<text x="49.1" y="351.6" font-size="10.3" text-anchor="end" fill="#000" stroke="#000" stroke-width="0.15">0</text>
<line x1="54.7" y1="309.5" x2="59.5" y2="309.5" stroke="#000" stroke-width="1.1"/>
<text x="49.1" y="312.8" font-size="10.3" text-anchor="end" fill="#000" stroke="#000" stroke-width="0.15">2000</text>
<line x1="54.7" y1="270.5" x2="59.5" y2="270.5" stroke="#000" stroke-width="1.1"/>
<text x="49.1" y="274" font-size="10.3" text-anchor="end" fill="#000" stroke="#000" stroke-width="0.15">4000</text>
<line x1="58.9" y1="352.5" x2="220.9" y2="352.5" stroke="#000" stroke-width="1.25"/>
<line x1="59.5" y1="352.5" x2="59.5" y2="357.3" stroke="#000" stroke-width="1.1"/>
<line x1="65.5" y1="352.5" x2="65.5" y2="355.3" stroke="#000" stroke-width="1.1"/>
<line x1="72.5" y1="352.5" x2="72.5" y2="355.3" stroke="#000" stroke-width="1.1"/>
<line x1="78.5" y1="352.5" x2="78.5" y2="355.3" stroke="#000" stroke-width="1.1"/>
<line x1="85.5" y1="352.5" x2="85.5" y2="355.3" stroke="#000" stroke-width="1.1"/>
<line x1="91.5" y1="352.5" x2="91.5" y2="357.3" stroke="#000" stroke-width="1.1"/>
<line x1="97.5" y1="352.5" x2="97.5" y2="355.3" stroke="#000" stroke-width="1.1"/>
<line x1="104.5" y1="352.5" x2="104.5" y2="355.3" stroke="#000" stroke-width="1.1"/>
<line x1="110.5" y1="352.5" x2="110.5" y2="355.3" stroke="#000" stroke-width="1.1"/>
<line x1="117.5" y1="352.5" x2="117.5" y2="355.3" stroke="#000" stroke-width="1.1"/>
<line x1="123.5" y1="352.5" x2="123.5" y2="357.3" stroke="#000" stroke-width="1.1"/>
<line x1="129.5" y1="352.5" x2="129.5" y2="355.3" stroke="#000" stroke-width="1.1"/>
<line x1="136.5" y1="352.5" x2="136.5" y2="355.3" stroke="#000" stroke-width="1.1"/>
<line x1="142.5" y1="352.5" x2="142.5" y2="355.3" stroke="#000" stroke-width="1.1"/>
<line x1="149.5" y1="352.5" x2="149.5" y2="355.3" stroke="#000" stroke-width="1.1"/>
<line x1="155.5" y1="352.5" x2="155.5" y2="357.3" stroke="#000" stroke-width="1.1"/>
<line x1="161.5" y1="352.5" x2="161.5" y2="355.3" stroke="#000" stroke-width="1.1"/>
<line x1="168.5" y1="352.5" x2="168.5" y2="355.3" stroke="#000" stroke-width="1.1"/>
<line x1="174.5" y1="352.5" x2="174.5" y2="355.3" stroke="#000" stroke-width="1.1"/>
<line x1="181.5" y1="352.5" x2="181.5" y2="355.3" stroke="#000" stroke-width="1.1"/>
<line x1="187.5" y1="352.5" x2="187.5" y2="357.3" stroke="#000" stroke-width="1.1"/>
<line x1="193.5" y1="352.5" x2="193.5" y2="355.3" stroke="#000" stroke-width="1.1"/>
<line x1="200.5" y1="352.5" x2="200.5" y2="355.3" stroke="#000" stroke-width="1.1"/>
<line x1="206.5" y1="352.5" x2="206.5" y2="355.3" stroke="#000" stroke-width="1.1"/>
<line x1="213.5" y1="352.5" x2="213.5" y2="355.3" stroke="#000" stroke-width="1.1"/>
<line x1="219.5" y1="352.5" x2="219.5" y2="357.3" stroke="#000" stroke-width="1.1"/>
<text x="59.4" y="369.8" font-size="10.3" text-anchor="middle" fill="#000" stroke="#000" stroke-width="0.15">-500</text>
<text x="91.4" y="369.8" font-size="10.3" text-anchor="middle" fill="#000" stroke="#000" stroke-width="0.15">-1/1</text>
<text x="123.4" y="369.8" font-size="10.3" text-anchor="middle" fill="#000" stroke="#000" stroke-width="0.15">500</text>
<text x="155.4" y="369.8" font-size="10.3" text-anchor="middle" fill="#000" stroke="#000" stroke-width="0.15">1000</text>
<text x="187.4" y="369.8" font-size="10.3" text-anchor="middle" fill="#000" stroke="#000" stroke-width="0.15">1500</text>
<text x="219.4" y="369.8" font-size="10.3" text-anchor="middle" fill="#000" stroke="#000" stroke-width="0.15">2000</text>
<line x1="59.5" y1="378" x2="59.5" y2="448.1" stroke="#000" stroke-width="1.25"/>
<line x1="54.7" y1="447.5" x2="59.5" y2="447.5" stroke="#000" stroke-width="1.1"/>
<text x="49.1" y="450.8" font-size="10.3" text-anchor="end" fill="#000" stroke="#000" stroke-width="0.15">0</text>
<line x1="54.7" y1="424.5" x2="59.5" y2="424.5" stroke="#000" stroke-width="1.1"/>
<text x="49.1" y="427.6" font-size="10.3" text-anchor="end" fill="#000" stroke="#000" stroke-width="0.15">5</text>
<line x1="54.7" y1="400.5" x2="59.5" y2="400.5" stroke="#000" stroke-width="1.1"/>
<text x="49.1" y="404.4" font-size="10.3" text-anchor="end" fill="#000" stroke="#000" stroke-width="0.15">10</text>
<line x1="56.7" y1="435.5" x2="59.5" y2="435.5" stroke="#000" stroke-width="1.1"/>
<line x1="56.7" y1="412.5" x2="59.5" y2="412.5" stroke="#000" stroke-width="1.1"/>
<line x1="56.7" y1="389.5" x2="59.5" y2="389.5" stroke="#000" stroke-width="1.1"/>
<line x1="58.9" y1="447.5" x2="220.9" y2="447.5" stroke="#000" stroke-width="1.25"/>
<line x1="59.5" y1="447.5" x2="59.5" y2="452.3" stroke="#000" stroke-width="1.1"/>
<line x1="65.5" y1="447.5" x2="65.5" y2="450.3" stroke="#000" stroke-width="1.1"/>
<line x1="72.5" y1="447.5" x2="72.5" y2="450.3" stroke="#000" stroke-width="1.1"/>
<line x1="78.5" y1="447.5" x2="78.5" y2="450.3" stroke="#000" stroke-width="1.1"/>
<line x1="85.5" y1="447.5" x2="85.5" y2="450.3" stroke="#000" stroke-width="1.1"/>
<line x1="91.5" y1="447.5" x2="91.5" y2="452.3" stroke="#000" stroke-width="1.1"/>
<line x1="97.5" y1="447.5" x2="97.5" y2="450.3" stroke="#000" stroke-width="1.1"/>
<line x1="104.5" y1="447.5" x2="104.5" y2="450.3" stroke="#000" stroke-width="1.1"/>
<line x1="110.5" y1="447.5" x2="110.5" y2="450.3" stroke="#000" stroke-width="1.1"/>
<line x1="117.5" y1="447.5" x2="117.5" y2="450.3" stroke="#000" stroke-width="1.1"/>
<line x1="123.5" y1="447.5" x2="123.5" y2="452.3" stroke="#000" stroke-width="1.1"/>
<line x1="129.5" y1="447.5" x2="129.5" y2="450.3" stroke="#000" stroke-width="1.1"/>
<line x1="136.5" y1="447.5" x2="136.5" y2="450.3" stroke="#000" stroke-width="1.1"/>
<line x1="142.5" y1="447.5" x2="142.5" y2="450.3" stroke="#000" stroke-width="1.1"/>
<line x1="149.5" y1="447.5" x2="149.5" y2="450.3" stroke="#000" stroke-width="1.1"/>
<line x1="155.5" y1="447.5" x2="155.5" y2="452.3" stroke="#000" stroke-width="1.1"/>
<line x1="161.5" y1="447.5" x2="161.5" y2="450.3" stroke="#000" stroke-width="1.1"/>
<line x1="168.5" y1="447.5" x2="168.5" y2="450.3" stroke="#000" stroke-width="1.1"/>
<line x1="174.5" y1="447.5" x2="174.5" y2="450.3" stroke="#000" stroke-width="1.1"/>
<line x1="181.5" y1="447.5" x2="181.5" y2="450.3" stroke="#000" stroke-width="1.1"/>
<line x1="187.5" y1="447.5" x2="187.5" y2="452.3" stroke="#000" stroke-width="1.1"/>
<line x1="193.5" y1="447.5" x2="193.5" y2="450.3" stroke="#000" stroke-width="1.1"/>
<line x1="200.5" y1="447.5" x2="200.5" y2="450.3" stroke="#000" stroke-width="1.1"/>
<line x1="206.5" y1="447.5" x2="206.5" y2="450.3" stroke="#000" stroke-width="1.1"/>
<line x1="213.5" y1="447.5" x2="213.5" y2="450.3" stroke="#000" stroke-width="1.1"/>
<line x1="219.5" y1="447.5" x2="219.5" y2="452.3" stroke="#000" stroke-width="1.1"/>
<text x="59.4" y="464.8" font-size="10.3" text-anchor="middle" fill="#000" stroke="#000" stroke-width="0.15">-500</text>
<text x="91.4" y="464.8" font-size="10.3" text-anchor="middle" fill="#000" stroke="#000" stroke-width="0.15">-1/1</text>
<text x="123.4" y="464.8" font-size="10.3" text-anchor="middle" fill="#000" stroke="#000" stroke-width="0.15">500</text>
<text x="155.4" y="464.8" font-size="10.3" text-anchor="middle" fill="#000" stroke="#000" stroke-width="0.15">1000</text>
<text x="187.4" y="464.8" font-size="10.3" text-anchor="middle" fill="#000" stroke="#000" stroke-width="0.15">1500</text>
<text x="219.4" y="464.8" font-size="10.3" text-anchor="middle" fill="#000" stroke="#000" stroke-width="0.15">2000</text>
<line x1="277.5" y1="246" x2="277.5" y2="353.1" stroke="#000" stroke-width="1.25"/>
<line x1="272.7" y1="347.5" x2="277.5" y2="347.5" stroke="#000" stroke-width="1.1"/>
<text x="267.5" y="351.5" font-size="10.3" text-anchor="end" fill="#000" stroke="#000" stroke-width="0.15">0</text>
<line x1="272.7" y1="309.5" x2="277.5" y2="309.5" stroke="#000" stroke-width="1.1"/>
<text x="267.5" y="312.6" font-size="10.3" text-anchor="end" fill="#000" stroke="#000" stroke-width="0.15">1000</text>
<line x1="272.7" y1="270.5" x2="277.5" y2="270.5" stroke="#000" stroke-width="1.1"/>
<text x="267.5" y="273.7" font-size="10.3" text-anchor="end" fill="#000" stroke="#000" stroke-width="0.15">2000</text>
<line x1="276.9" y1="352.5" x2="439.3" y2="352.5" stroke="#000" stroke-width="1.25"/>
<line x1="277.5" y1="352.5" x2="277.5" y2="357.3" stroke="#000" stroke-width="1.1"/>
<line x1="284.5" y1="352.5" x2="284.5" y2="355.3" stroke="#000" stroke-width="1.1"/>
<line x1="290.5" y1="352.5" x2="290.5" y2="355.3" stroke="#000" stroke-width="1.1"/>
<line x1="297.5" y1="352.5" x2="297.5" y2="355.3" stroke="#000" stroke-width="1.1"/>
<line x1="303.5" y1="352.5" x2="303.5" y2="355.3" stroke="#000" stroke-width="1.1"/>
<line x1="309.5" y1="352.5" x2="309.5" y2="357.3" stroke="#000" stroke-width="1.1"/>
<line x1="316.5" y1="352.5" x2="316.5" y2="355.3" stroke="#000" stroke-width="1.1"/>
<line x1="322.5" y1="352.5" x2="322.5" y2="355.3" stroke="#000" stroke-width="1.1"/>
<line x1="329.5" y1="352.5" x2="329.5" y2="355.3" stroke="#000" stroke-width="1.1"/>
<line x1="335.5" y1="352.5" x2="335.5" y2="355.3" stroke="#000" stroke-width="1.1"/>
<line x1="341.5" y1="352.5" x2="341.5" y2="357.3" stroke="#000" stroke-width="1.1"/>
<line x1="348.5" y1="352.5" x2="348.5" y2="355.3" stroke="#000" stroke-width="1.1"/>
<line x1="354.5" y1="352.5" x2="354.5" y2="355.3" stroke="#000" stroke-width="1.1"/>
<line x1="361.5" y1="352.5" x2="361.5" y2="355.3" stroke="#000" stroke-width="1.1"/>
<line x1="367.5" y1="352.5" x2="367.5" y2="355.3" stroke="#000" stroke-width="1.1"/>
<line x1="373.5" y1="352.5" x2="373.5" y2="357.3" stroke="#000" stroke-width="1.1"/>
<line x1="380.5" y1="352.5" x2="380.5" y2="355.3" stroke="#000" stroke-width="1.1"/>
<line x1="386.5" y1="352.5" x2="386.5" y2="355.3" stroke="#000" stroke-width="1.1"/>
<line x1="393.5" y1="352.5" x2="393.5" y2="355.3" stroke="#000" stroke-width="1.1"/>
<line x1="399.5" y1="352.5" x2="399.5" y2="355.3" stroke="#000" stroke-width="1.1"/>
<line x1="405.5" y1="352.5" x2="405.5" y2="357.3" stroke="#000" stroke-width="1.1"/>
<line x1="412.5" y1="352.5" x2="412.5" y2="355.3" stroke="#000" stroke-width="1.1"/>
<line x1="418.5" y1="352.5" x2="418.5" y2="355.3" stroke="#000" stroke-width="1.1"/>
<line x1="425.5" y1="352.5" x2="425.5" y2="355.3" stroke="#000" stroke-width="1.1"/>
<line x1="431.5" y1="352.5" x2="431.5" y2="355.3" stroke="#000" stroke-width="1.1"/>
<line x1="437.5" y1="352.5" x2="437.5" y2="357.3" stroke="#000" stroke-width="1.1"/>
<text x="277.8" y="369.8" font-size="10.3" text-anchor="middle" fill="#000" stroke="#000" stroke-width="0.15">-500</text>
<text x="309.8" y="369.8" font-size="10.3" text-anchor="middle" fill="#000" stroke="#000" stroke-width="0.15">-1/1</text>
<text x="341.8" y="369.8" font-size="10.3" text-anchor="middle" fill="#000" stroke="#000" stroke-width="0.15">500</text>
<text x="373.8" y="369.8" font-size="10.3" text-anchor="middle" fill="#000" stroke="#000" stroke-width="0.15">1000</text>
<text x="405.8" y="369.8" font-size="10.3" text-anchor="middle" fill="#000" stroke="#000" stroke-width="0.15">1500</text>
<text x="437.8" y="369.8" font-size="10.3" text-anchor="middle" fill="#000" stroke="#000" stroke-width="0.15">2000</text>
<line x1="277.5" y1="378" x2="277.5" y2="448.1" stroke="#000" stroke-width="1.25"/>
<line x1="272.7" y1="447.5" x2="277.5" y2="447.5" stroke="#000" stroke-width="1.1"/>
<text x="267.5" y="450.6" font-size="10.3" text-anchor="end" fill="#000" stroke="#000" stroke-width="0.15">0.0</text>
<line x1="272.7" y1="419.5" x2="277.5" y2="419.5" stroke="#000" stroke-width="1.1"/>
<text x="267.5" y="422.85" font-size="10.3" text-anchor="end" fill="#000" stroke="#000" stroke-width="0.15">2.5</text>
<line x1="272.7" y1="391.5" x2="277.5" y2="391.5" stroke="#000" stroke-width="1.1"/>
<text x="267.5" y="395.1" font-size="10.3" text-anchor="end" fill="#000" stroke="#000" stroke-width="0.15">5.0</text>
<line x1="274.7" y1="441.5" x2="277.5" y2="441.5" stroke="#000" stroke-width="1.1"/>
<line x1="274.7" y1="435.5" x2="277.5" y2="435.5" stroke="#000" stroke-width="1.1"/>
<line x1="274.7" y1="430.5" x2="277.5" y2="430.5" stroke="#000" stroke-width="1.1"/>
<line x1="274.7" y1="424.5" x2="277.5" y2="424.5" stroke="#000" stroke-width="1.1"/>
<line x1="274.7" y1="413.5" x2="277.5" y2="413.5" stroke="#000" stroke-width="1.1"/>
<line x1="274.7" y1="408.5" x2="277.5" y2="408.5" stroke="#000" stroke-width="1.1"/>
<line x1="274.7" y1="402.5" x2="277.5" y2="402.5" stroke="#000" stroke-width="1.1"/>
<line x1="274.7" y1="397.5" x2="277.5" y2="397.5" stroke="#000" stroke-width="1.1"/>
<line x1="274.7" y1="385.5" x2="277.5" y2="385.5" stroke="#000" stroke-width="1.1"/>
<line x1="274.7" y1="380.5" x2="277.5" y2="380.5" stroke="#000" stroke-width="1.1"/>
<line x1="276.9" y1="447.5" x2="439.3" y2="447.5" stroke="#000" stroke-width="1.25"/>
<line x1="277.5" y1="447.5" x2="277.5" y2="452.3" stroke="#000" stroke-width="1.1"/>
<line x1="284.5" y1="447.5" x2="284.5" y2="450.3" stroke="#000" stroke-width="1.1"/>
<line x1="290.5" y1="447.5" x2="290.5" y2="450.3" stroke="#000" stroke-width="1.1"/>
<line x1="297.5" y1="447.5" x2="297.5" y2="450.3" stroke="#000" stroke-width="1.1"/>
<line x1="303.5" y1="447.5" x2="303.5" y2="450.3" stroke="#000" stroke-width="1.1"/>
<line x1="309.5" y1="447.5" x2="309.5" y2="452.3" stroke="#000" stroke-width="1.1"/>
<line x1="316.5" y1="447.5" x2="316.5" y2="450.3" stroke="#000" stroke-width="1.1"/>
<line x1="322.5" y1="447.5" x2="322.5" y2="450.3" stroke="#000" stroke-width="1.1"/>
<line x1="329.5" y1="447.5" x2="329.5" y2="450.3" stroke="#000" stroke-width="1.1"/>
<line x1="335.5" y1="447.5" x2="335.5" y2="450.3" stroke="#000" stroke-width="1.1"/>
<line x1="341.5" y1="447.5" x2="341.5" y2="452.3" stroke="#000" stroke-width="1.1"/>
<line x1="348.5" y1="447.5" x2="348.5" y2="450.3" stroke="#000" stroke-width="1.1"/>
<line x1="354.5" y1="447.5" x2="354.5" y2="450.3" stroke="#000" stroke-width="1.1"/>
<line x1="361.5" y1="447.5" x2="361.5" y2="450.3" stroke="#000" stroke-width="1.1"/>
<line x1="367.5" y1="447.5" x2="367.5" y2="450.3" stroke="#000" stroke-width="1.1"/>
<line x1="373.5" y1="447.5" x2="373.5" y2="452.3" stroke="#000" stroke-width="1.1"/>
<line x1="380.5" y1="447.5" x2="380.5" y2="450.3" stroke="#000" stroke-width="1.1"/>
<line x1="386.5" y1="447.5" x2="386.5" y2="450.3" stroke="#000" stroke-width="1.1"/>
<line x1="393.5" y1="447.5" x2="393.5" y2="450.3" stroke="#000" stroke-width="1.1"/>
<line x1="399.5" y1="447.5" x2="399.5" y2="450.3" stroke="#000" stroke-width="1.1"/>
<line x1="405.5" y1="447.5" x2="405.5" y2="452.3" stroke="#000" stroke-width="1.1"/>
<line x1="412.5" y1="447.5" x2="412.5" y2="450.3" stroke="#000" stroke-width="1.1"/>
<line x1="418.5" y1="447.5" x2="418.5" y2="450.3" stroke="#000" stroke-width="1.1"/>
<line x1="425.5" y1="447.5" x2="425.5" y2="450.3" stroke="#000" stroke-width="1.1"/>
<line x1="431.5" y1="447.5" x2="431.5" y2="450.3" stroke="#000" stroke-width="1.1"/>
<line x1="437.5" y1="447.5" x2="437.5" y2="452.3" stroke="#000" stroke-width="1.1"/>
<text x="277.8" y="464.8" font-size="10.3" text-anchor="middle" fill="#000" stroke="#000" stroke-width="0.15">-500</text>
<text x="309.8" y="464.8" font-size="10.3" text-anchor="middle" fill="#000" stroke="#000" stroke-width="0.15">-1/1</text>
<text x="341.8" y="464.8" font-size="10.3" text-anchor="middle" fill="#000" stroke="#000" stroke-width="0.15">500</text>
<text x="373.8" y="464.8" font-size="10.3" text-anchor="middle" fill="#000" stroke="#000" stroke-width="0.15">1000</text>
<text x="405.8" y="464.8" font-size="10.3" text-anchor="middle" fill="#000" stroke="#000" stroke-width="0.15">1500</text>
<text x="437.8" y="464.8" font-size="10.3" text-anchor="middle" fill="#000" stroke="#000" stroke-width="0.15">2000</text>
<line x1="496.5" y1="246" x2="496.5" y2="353.1" stroke="#000" stroke-width="1.25"/>
<line x1="491.7" y1="348.5" x2="496.5" y2="348.5" stroke="#000" stroke-width="1.1"/>
<text x="486" y="352.1" font-size="10.3" text-anchor="end" fill="#000" stroke="#000" stroke-width="0.15">0</text>
<line x1="491.7" y1="318.5" x2="496.5" y2="318.5" stroke="#000" stroke-width="1.1"/>
<text x="486" y="322.4" font-size="10.3" text-anchor="end" fill="#000" stroke="#000" stroke-width="0.15">500</text>
<line x1="491.7" y1="289.5" x2="496.5" y2="289.5" stroke="#000" stroke-width="1.1"/>
<text x="486" y="292.7" font-size="10.3" text-anchor="end" fill="#000" stroke="#000" stroke-width="0.15">1000</text>
<line x1="491.7" y1="259.5" x2="496.5" y2="259.5" stroke="#000" stroke-width="1.1"/>
<text x="486" y="263" font-size="10.3" text-anchor="end" fill="#000" stroke="#000" stroke-width="0.15">1500</text>
<line x1="495.9" y1="352.5" x2="657.8" y2="352.5" stroke="#000" stroke-width="1.25"/>
<line x1="496.5" y1="352.5" x2="496.5" y2="357.3" stroke="#000" stroke-width="1.1"/>
<line x1="502.5" y1="352.5" x2="502.5" y2="355.3" stroke="#000" stroke-width="1.1"/>
<line x1="509.5" y1="352.5" x2="509.5" y2="355.3" stroke="#000" stroke-width="1.1"/>
<line x1="515.5" y1="352.5" x2="515.5" y2="355.3" stroke="#000" stroke-width="1.1"/>
<line x1="521.5" y1="352.5" x2="521.5" y2="355.3" stroke="#000" stroke-width="1.1"/>
<line x1="528.5" y1="352.5" x2="528.5" y2="357.3" stroke="#000" stroke-width="1.1"/>
<line x1="534.5" y1="352.5" x2="534.5" y2="355.3" stroke="#000" stroke-width="1.1"/>
<line x1="541.5" y1="352.5" x2="541.5" y2="355.3" stroke="#000" stroke-width="1.1"/>
<line x1="547.5" y1="352.5" x2="547.5" y2="355.3" stroke="#000" stroke-width="1.1"/>
<line x1="553.5" y1="352.5" x2="553.5" y2="355.3" stroke="#000" stroke-width="1.1"/>
<line x1="560.5" y1="352.5" x2="560.5" y2="357.3" stroke="#000" stroke-width="1.1"/>
<line x1="566.5" y1="352.5" x2="566.5" y2="355.3" stroke="#000" stroke-width="1.1"/>
<line x1="573.5" y1="352.5" x2="573.5" y2="355.3" stroke="#000" stroke-width="1.1"/>
<line x1="579.5" y1="352.5" x2="579.5" y2="355.3" stroke="#000" stroke-width="1.1"/>
<line x1="585.5" y1="352.5" x2="585.5" y2="355.3" stroke="#000" stroke-width="1.1"/>
<line x1="592.5" y1="352.5" x2="592.5" y2="357.3" stroke="#000" stroke-width="1.1"/>
<line x1="598.5" y1="352.5" x2="598.5" y2="355.3" stroke="#000" stroke-width="1.1"/>
<line x1="605.5" y1="352.5" x2="605.5" y2="355.3" stroke="#000" stroke-width="1.1"/>
<line x1="611.5" y1="352.5" x2="611.5" y2="355.3" stroke="#000" stroke-width="1.1"/>
<line x1="617.5" y1="352.5" x2="617.5" y2="355.3" stroke="#000" stroke-width="1.1"/>
<line x1="624.5" y1="352.5" x2="624.5" y2="357.3" stroke="#000" stroke-width="1.1"/>
<line x1="630.5" y1="352.5" x2="630.5" y2="355.3" stroke="#000" stroke-width="1.1"/>
<line x1="637.5" y1="352.5" x2="637.5" y2="355.3" stroke="#000" stroke-width="1.1"/>
<line x1="643.5" y1="352.5" x2="643.5" y2="355.3" stroke="#000" stroke-width="1.1"/>
<line x1="649.5" y1="352.5" x2="649.5" y2="355.3" stroke="#000" stroke-width="1.1"/>
<line x1="656.5" y1="352.5" x2="656.5" y2="357.3" stroke="#000" stroke-width="1.1"/>
<text x="496.3" y="369.8" font-size="10.3" text-anchor="middle" fill="#000" stroke="#000" stroke-width="0.15">-500</text>
<text x="528.3" y="369.8" font-size="10.3" text-anchor="middle" fill="#000" stroke="#000" stroke-width="0.15">-1/1</text>
<text x="560.3" y="369.8" font-size="10.3" text-anchor="middle" fill="#000" stroke="#000" stroke-width="0.15">500</text>
<text x="592.3" y="369.8" font-size="10.3" text-anchor="middle" fill="#000" stroke="#000" stroke-width="0.15">1000</text>
<text x="624.3" y="369.8" font-size="10.3" text-anchor="middle" fill="#000" stroke="#000" stroke-width="0.15">1500</text>
<text x="656.3" y="369.8" font-size="10.3" text-anchor="middle" fill="#000" stroke="#000" stroke-width="0.15">2000</text>
<line x1="496.5" y1="378" x2="496.5" y2="448.1" stroke="#000" stroke-width="1.25"/>
<line x1="491.7" y1="447.5" x2="496.5" y2="447.5" stroke="#000" stroke-width="1.1"/>
<text x="486" y="450.6" font-size="10.3" text-anchor="end" fill="#000" stroke="#000" stroke-width="0.15">0</text>
<line x1="491.7" y1="421.5" x2="496.5" y2="421.5" stroke="#000" stroke-width="1.1"/>
<text x="486" y="424.75" font-size="10.3" text-anchor="end" fill="#000" stroke="#000" stroke-width="0.15">1</text>
<line x1="491.7" y1="395.5" x2="496.5" y2="395.5" stroke="#000" stroke-width="1.1"/>
<text x="486" y="398.9" font-size="10.3" text-anchor="end" fill="#000" stroke="#000" stroke-width="0.15">2</text>
<line x1="493.7" y1="434.5" x2="496.5" y2="434.5" stroke="#000" stroke-width="1.1"/>
<line x1="493.7" y1="408.5" x2="496.5" y2="408.5" stroke="#000" stroke-width="1.1"/>
<line x1="493.7" y1="382.5" x2="496.5" y2="382.5" stroke="#000" stroke-width="1.1"/>
<line x1="495.9" y1="447.5" x2="657.8" y2="447.5" stroke="#000" stroke-width="1.25"/>
<line x1="496.5" y1="447.5" x2="496.5" y2="452.3" stroke="#000" stroke-width="1.1"/>
<line x1="502.5" y1="447.5" x2="502.5" y2="450.3" stroke="#000" stroke-width="1.1"/>
<line x1="509.5" y1="447.5" x2="509.5" y2="450.3" stroke="#000" stroke-width="1.1"/>
<line x1="515.5" y1="447.5" x2="515.5" y2="450.3" stroke="#000" stroke-width="1.1"/>
<line x1="521.5" y1="447.5" x2="521.5" y2="450.3" stroke="#000" stroke-width="1.1"/>
<line x1="528.5" y1="447.5" x2="528.5" y2="452.3" stroke="#000" stroke-width="1.1"/>
<line x1="534.5" y1="447.5" x2="534.5" y2="450.3" stroke="#000" stroke-width="1.1"/>
<line x1="541.5" y1="447.5" x2="541.5" y2="450.3" stroke="#000" stroke-width="1.1"/>
<line x1="547.5" y1="447.5" x2="547.5" y2="450.3" stroke="#000" stroke-width="1.1"/>
<line x1="553.5" y1="447.5" x2="553.5" y2="450.3" stroke="#000" stroke-width="1.1"/>
<line x1="560.5" y1="447.5" x2="560.5" y2="452.3" stroke="#000" stroke-width="1.1"/>
<line x1="566.5" y1="447.5" x2="566.5" y2="450.3" stroke="#000" stroke-width="1.1"/>
<line x1="573.5" y1="447.5" x2="573.5" y2="450.3" stroke="#000" stroke-width="1.1"/>
<line x1="579.5" y1="447.5" x2="579.5" y2="450.3" stroke="#000" stroke-width="1.1"/>
<line x1="585.5" y1="447.5" x2="585.5" y2="450.3" stroke="#000" stroke-width="1.1"/>
<line x1="592.5" y1="447.5" x2="592.5" y2="452.3" stroke="#000" stroke-width="1.1"/>
<line x1="598.5" y1="447.5" x2="598.5" y2="450.3" stroke="#000" stroke-width="1.1"/>
<line x1="605.5" y1="447.5" x2="605.5" y2="450.3" stroke="#000" stroke-width="1.1"/>
<line x1="611.5" y1="447.5" x2="611.5" y2="450.3" stroke="#000" stroke-width="1.1"/>
<line x1="617.5" y1="447.5" x2="617.5" y2="450.3" stroke="#000" stroke-width="1.1"/>
<line x1="624.5" y1="447.5" x2="624.5" y2="452.3" stroke="#000" stroke-width="1.1"/>
<line x1="630.5" y1="447.5" x2="630.5" y2="450.3" stroke="#000" stroke-width="1.1"/>
<line x1="637.5" y1="447.5" x2="637.5" y2="450.3" stroke="#000" stroke-width="1.1"/>
<line x1="643.5" y1="447.5" x2="643.5" y2="450.3" stroke="#000" stroke-width="1.1"/>
<line x1="649.5" y1="447.5" x2="649.5" y2="450.3" stroke="#000" stroke-width="1.1"/>
<line x1="656.5" y1="447.5" x2="656.5" y2="452.3" stroke="#000" stroke-width="1.1"/>
<text x="496.3" y="464.8" font-size="10.3" text-anchor="middle" fill="#000" stroke="#000" stroke-width="0.15">-500</text>
<text x="528.3" y="464.8" font-size="10.3" text-anchor="middle" fill="#000" stroke="#000" stroke-width="0.15">-1/1</text>
<text x="560.3" y="464.8" font-size="10.3" text-anchor="middle" fill="#000" stroke="#000" stroke-width="0.15">500</text>
<text x="592.3" y="464.8" font-size="10.3" text-anchor="middle" fill="#000" stroke="#000" stroke-width="0.15">1000</text>
<text x="624.3" y="464.8" font-size="10.3" text-anchor="middle" fill="#000" stroke="#000" stroke-width="0.15">1500</text>
<text x="656.3" y="464.8" font-size="10.3" text-anchor="middle" fill="#000" stroke="#000" stroke-width="0.15">2000</text>
<line x1="59.5" y1="491.1" x2="59.5" y2="598.1" stroke="#000" stroke-width="1.25"/>
<line x1="54.7" y1="568.5" x2="59.5" y2="568.5" stroke="#000" stroke-width="1.1"/>
<text x="49.1" y="572.4" font-size="10.3" text-anchor="end" fill="#000" stroke="#000" stroke-width="0.15">250</text>
<line x1="54.7" y1="538.5" x2="59.5" y2="538.5" stroke="#000" stroke-width="1.1"/>
<text x="49.1" y="542.15" font-size="10.3" text-anchor="end" fill="#000" stroke="#000" stroke-width="0.15">500</text>
<line x1="54.7" y1="508.5" x2="59.5" y2="508.5" stroke="#000" stroke-width="1.1"/>
<text x="49.1" y="511.9" font-size="10.3" text-anchor="end" fill="#000" stroke="#000" stroke-width="0.15">750</text>
<line x1="58.9" y1="597.5" x2="220.9" y2="597.5" stroke="#000" stroke-width="1.25"/>
<line x1="59.5" y1="597.5" x2="59.5" y2="602.3" stroke="#000" stroke-width="1.1"/>
<line x1="65.5" y1="597.5" x2="65.5" y2="600.3" stroke="#000" stroke-width="1.1"/>
<line x1="72.5" y1="597.5" x2="72.5" y2="600.3" stroke="#000" stroke-width="1.1"/>
<line x1="78.5" y1="597.5" x2="78.5" y2="600.3" stroke="#000" stroke-width="1.1"/>
<line x1="85.5" y1="597.5" x2="85.5" y2="600.3" stroke="#000" stroke-width="1.1"/>
<line x1="91.5" y1="597.5" x2="91.5" y2="602.3" stroke="#000" stroke-width="1.1"/>
<line x1="97.5" y1="597.5" x2="97.5" y2="600.3" stroke="#000" stroke-width="1.1"/>
<line x1="104.5" y1="597.5" x2="104.5" y2="600.3" stroke="#000" stroke-width="1.1"/>
<line x1="110.5" y1="597.5" x2="110.5" y2="600.3" stroke="#000" stroke-width="1.1"/>
<line x1="117.5" y1="597.5" x2="117.5" y2="600.3" stroke="#000" stroke-width="1.1"/>
<line x1="123.5" y1="597.5" x2="123.5" y2="602.3" stroke="#000" stroke-width="1.1"/>
<line x1="129.5" y1="597.5" x2="129.5" y2="600.3" stroke="#000" stroke-width="1.1"/>
<line x1="136.5" y1="597.5" x2="136.5" y2="600.3" stroke="#000" stroke-width="1.1"/>
<line x1="142.5" y1="597.5" x2="142.5" y2="600.3" stroke="#000" stroke-width="1.1"/>
<line x1="149.5" y1="597.5" x2="149.5" y2="600.3" stroke="#000" stroke-width="1.1"/>
<line x1="155.5" y1="597.5" x2="155.5" y2="602.3" stroke="#000" stroke-width="1.1"/>
<line x1="161.5" y1="597.5" x2="161.5" y2="600.3" stroke="#000" stroke-width="1.1"/>
<line x1="168.5" y1="597.5" x2="168.5" y2="600.3" stroke="#000" stroke-width="1.1"/>
<line x1="174.5" y1="597.5" x2="174.5" y2="600.3" stroke="#000" stroke-width="1.1"/>
<line x1="181.5" y1="597.5" x2="181.5" y2="600.3" stroke="#000" stroke-width="1.1"/>
<line x1="187.5" y1="597.5" x2="187.5" y2="602.3" stroke="#000" stroke-width="1.1"/>
<line x1="193.5" y1="597.5" x2="193.5" y2="600.3" stroke="#000" stroke-width="1.1"/>
<line x1="200.5" y1="597.5" x2="200.5" y2="600.3" stroke="#000" stroke-width="1.1"/>
<line x1="206.5" y1="597.5" x2="206.5" y2="600.3" stroke="#000" stroke-width="1.1"/>
<line x1="213.5" y1="597.5" x2="213.5" y2="600.3" stroke="#000" stroke-width="1.1"/>
<line x1="219.5" y1="597.5" x2="219.5" y2="602.3" stroke="#000" stroke-width="1.1"/>
<text x="59.4" y="615.3" font-size="10.3" text-anchor="middle" fill="#000" stroke="#000" stroke-width="0.15">-500</text>
<text x="91.4" y="615.3" font-size="10.3" text-anchor="middle" fill="#000" stroke="#000" stroke-width="0.15">-1/1</text>
<text x="123.4" y="615.3" font-size="10.3" text-anchor="middle" fill="#000" stroke="#000" stroke-width="0.15">500</text>
<text x="155.4" y="615.3" font-size="10.3" text-anchor="middle" fill="#000" stroke="#000" stroke-width="0.15">1000</text>
<text x="187.4" y="615.3" font-size="10.3" text-anchor="middle" fill="#000" stroke="#000" stroke-width="0.15">1500</text>
<text x="219.4" y="615.3" font-size="10.3" text-anchor="middle" fill="#000" stroke="#000" stroke-width="0.15">2000</text>
<line x1="59.5" y1="623.1" x2="59.5" y2="693.1" stroke="#000" stroke-width="1.25"/>
<line x1="54.7" y1="692.5" x2="59.5" y2="692.5" stroke="#000" stroke-width="1.1"/>
<text x="49.1" y="695.7" font-size="10.3" text-anchor="end" fill="#000" stroke="#000" stroke-width="0.15">0</text>
<line x1="54.7" y1="665.5" x2="59.5" y2="665.5" stroke="#000" stroke-width="1.1"/>
<text x="49.1" y="668.75" font-size="10.3" text-anchor="end" fill="#000" stroke="#000" stroke-width="0.15">1</text>
<line x1="54.7" y1="638.5" x2="59.5" y2="638.5" stroke="#000" stroke-width="1.1"/>
<text x="49.1" y="641.8" font-size="10.3" text-anchor="end" fill="#000" stroke="#000" stroke-width="0.15">2</text>
<line x1="56.7" y1="678.5" x2="59.5" y2="678.5" stroke="#000" stroke-width="1.1"/>
<line x1="56.7" y1="651.5" x2="59.5" y2="651.5" stroke="#000" stroke-width="1.1"/>
<line x1="56.7" y1="624.5" x2="59.5" y2="624.5" stroke="#000" stroke-width="1.1"/>
<line x1="58.9" y1="692.5" x2="220.9" y2="692.5" stroke="#000" stroke-width="1.25"/>
<line x1="59.5" y1="692.5" x2="59.5" y2="697.3" stroke="#000" stroke-width="1.1"/>
<line x1="65.5" y1="692.5" x2="65.5" y2="695.3" stroke="#000" stroke-width="1.1"/>
<line x1="72.5" y1="692.5" x2="72.5" y2="695.3" stroke="#000" stroke-width="1.1"/>
<line x1="78.5" y1="692.5" x2="78.5" y2="695.3" stroke="#000" stroke-width="1.1"/>
<line x1="85.5" y1="692.5" x2="85.5" y2="695.3" stroke="#000" stroke-width="1.1"/>
<line x1="91.5" y1="692.5" x2="91.5" y2="697.3" stroke="#000" stroke-width="1.1"/>
<line x1="97.5" y1="692.5" x2="97.5" y2="695.3" stroke="#000" stroke-width="1.1"/>
<line x1="104.5" y1="692.5" x2="104.5" y2="695.3" stroke="#000" stroke-width="1.1"/>
<line x1="110.5" y1="692.5" x2="110.5" y2="695.3" stroke="#000" stroke-width="1.1"/>
<line x1="117.5" y1="692.5" x2="117.5" y2="695.3" stroke="#000" stroke-width="1.1"/>
<line x1="123.5" y1="692.5" x2="123.5" y2="697.3" stroke="#000" stroke-width="1.1"/>
<line x1="129.5" y1="692.5" x2="129.5" y2="695.3" stroke="#000" stroke-width="1.1"/>
<line x1="136.5" y1="692.5" x2="136.5" y2="695.3" stroke="#000" stroke-width="1.1"/>
<line x1="142.5" y1="692.5" x2="142.5" y2="695.3" stroke="#000" stroke-width="1.1"/>
<line x1="149.5" y1="692.5" x2="149.5" y2="695.3" stroke="#000" stroke-width="1.1"/>
<line x1="155.5" y1="692.5" x2="155.5" y2="697.3" stroke="#000" stroke-width="1.1"/>
<line x1="161.5" y1="692.5" x2="161.5" y2="695.3" stroke="#000" stroke-width="1.1"/>
<line x1="168.5" y1="692.5" x2="168.5" y2="695.3" stroke="#000" stroke-width="1.1"/>
<line x1="174.5" y1="692.5" x2="174.5" y2="695.3" stroke="#000" stroke-width="1.1"/>
<line x1="181.5" y1="692.5" x2="181.5" y2="695.3" stroke="#000" stroke-width="1.1"/>
<line x1="187.5" y1="692.5" x2="187.5" y2="697.3" stroke="#000" stroke-width="1.1"/>
<line x1="193.5" y1="692.5" x2="193.5" y2="695.3" stroke="#000" stroke-width="1.1"/>
<line x1="200.5" y1="692.5" x2="200.5" y2="695.3" stroke="#000" stroke-width="1.1"/>
<line x1="206.5" y1="692.5" x2="206.5" y2="695.3" stroke="#000" stroke-width="1.1"/>
<line x1="213.5" y1="692.5" x2="213.5" y2="695.3" stroke="#000" stroke-width="1.1"/>
<line x1="219.5" y1="692.5" x2="219.5" y2="697.3" stroke="#000" stroke-width="1.1"/>
<text x="59.4" y="710.2" font-size="10.3" text-anchor="middle" fill="#000" stroke="#000" stroke-width="0.15">-500</text>
<text x="91.4" y="710.2" font-size="10.3" text-anchor="middle" fill="#000" stroke="#000" stroke-width="0.15">-1/1</text>
<text x="123.4" y="710.2" font-size="10.3" text-anchor="middle" fill="#000" stroke="#000" stroke-width="0.15">500</text>
<text x="155.4" y="710.2" font-size="10.3" text-anchor="middle" fill="#000" stroke="#000" stroke-width="0.15">1000</text>
<text x="187.4" y="710.2" font-size="10.3" text-anchor="middle" fill="#000" stroke="#000" stroke-width="0.15">1500</text>
<text x="219.4" y="710.2" font-size="10.3" text-anchor="middle" fill="#000" stroke="#000" stroke-width="0.15">2000</text>
<line x1="277.5" y1="491.1" x2="277.5" y2="598.1" stroke="#000" stroke-width="1.25"/>
<line x1="272.7" y1="596.5" x2="277.5" y2="596.5" stroke="#000" stroke-width="1.1"/>
<text x="267.5" y="600" font-size="10.3" text-anchor="end" fill="#000" stroke="#000" stroke-width="0.15">0</text>
<line x1="272.7" y1="566.5" x2="277.5" y2="566.5" stroke="#000" stroke-width="1.1"/>
<text x="267.5" y="570.07" font-size="10.3" text-anchor="end" fill="#000" stroke="#000" stroke-width="0.15">250</text>
<line x1="272.7" y1="536.5" x2="277.5" y2="536.5" stroke="#000" stroke-width="1.1"/>
<text x="267.5" y="540.13" font-size="10.3" text-anchor="end" fill="#000" stroke="#000" stroke-width="0.15">500</text>
<line x1="272.7" y1="506.5" x2="277.5" y2="506.5" stroke="#000" stroke-width="1.1"/>
<text x="267.5" y="510.2" font-size="10.3" text-anchor="end" fill="#000" stroke="#000" stroke-width="0.15">750</text>
<line x1="276.9" y1="597.5" x2="439.3" y2="597.5" stroke="#000" stroke-width="1.25"/>
<line x1="277.5" y1="597.5" x2="277.5" y2="602.3" stroke="#000" stroke-width="1.1"/>
<line x1="284.5" y1="597.5" x2="284.5" y2="600.3" stroke="#000" stroke-width="1.1"/>
<line x1="290.5" y1="597.5" x2="290.5" y2="600.3" stroke="#000" stroke-width="1.1"/>
<line x1="297.5" y1="597.5" x2="297.5" y2="600.3" stroke="#000" stroke-width="1.1"/>
<line x1="303.5" y1="597.5" x2="303.5" y2="600.3" stroke="#000" stroke-width="1.1"/>
<line x1="309.5" y1="597.5" x2="309.5" y2="602.3" stroke="#000" stroke-width="1.1"/>
<line x1="316.5" y1="597.5" x2="316.5" y2="600.3" stroke="#000" stroke-width="1.1"/>
<line x1="322.5" y1="597.5" x2="322.5" y2="600.3" stroke="#000" stroke-width="1.1"/>
<line x1="329.5" y1="597.5" x2="329.5" y2="600.3" stroke="#000" stroke-width="1.1"/>
<line x1="335.5" y1="597.5" x2="335.5" y2="600.3" stroke="#000" stroke-width="1.1"/>
<line x1="341.5" y1="597.5" x2="341.5" y2="602.3" stroke="#000" stroke-width="1.1"/>
<line x1="348.5" y1="597.5" x2="348.5" y2="600.3" stroke="#000" stroke-width="1.1"/>
<line x1="354.5" y1="597.5" x2="354.5" y2="600.3" stroke="#000" stroke-width="1.1"/>
<line x1="361.5" y1="597.5" x2="361.5" y2="600.3" stroke="#000" stroke-width="1.1"/>
<line x1="367.5" y1="597.5" x2="367.5" y2="600.3" stroke="#000" stroke-width="1.1"/>
<line x1="373.5" y1="597.5" x2="373.5" y2="602.3" stroke="#000" stroke-width="1.1"/>
<line x1="380.5" y1="597.5" x2="380.5" y2="600.3" stroke="#000" stroke-width="1.1"/>
<line x1="386.5" y1="597.5" x2="386.5" y2="600.3" stroke="#000" stroke-width="1.1"/>
<line x1="393.5" y1="597.5" x2="393.5" y2="600.3" stroke="#000" stroke-width="1.1"/>
<line x1="399.5" y1="597.5" x2="399.5" y2="600.3" stroke="#000" stroke-width="1.1"/>
<line x1="405.5" y1="597.5" x2="405.5" y2="602.3" stroke="#000" stroke-width="1.1"/>
<line x1="412.5" y1="597.5" x2="412.5" y2="600.3" stroke="#000" stroke-width="1.1"/>
<line x1="418.5" y1="597.5" x2="418.5" y2="600.3" stroke="#000" stroke-width="1.1"/>
<line x1="425.5" y1="597.5" x2="425.5" y2="600.3" stroke="#000" stroke-width="1.1"/>
<line x1="431.5" y1="597.5" x2="431.5" y2="600.3" stroke="#000" stroke-width="1.1"/>
<line x1="437.5" y1="597.5" x2="437.5" y2="602.3" stroke="#000" stroke-width="1.1"/>
<text x="277.8" y="615.3" font-size="10.3" text-anchor="middle" fill="#000" stroke="#000" stroke-width="0.15">-500</text>
<text x="309.8" y="615.3" font-size="10.3" text-anchor="middle" fill="#000" stroke="#000" stroke-width="0.15">-1/1</text>
<text x="341.8" y="615.3" font-size="10.3" text-anchor="middle" fill="#000" stroke="#000" stroke-width="0.15">500</text>
<text x="373.8" y="615.3" font-size="10.3" text-anchor="middle" fill="#000" stroke="#000" stroke-width="0.15">1000</text>
<text x="405.8" y="615.3" font-size="10.3" text-anchor="middle" fill="#000" stroke="#000" stroke-width="0.15">1500</text>
<text x="437.8" y="615.3" font-size="10.3" text-anchor="middle" fill="#000" stroke="#000" stroke-width="0.15">2000</text>
<line x1="277.5" y1="623.1" x2="277.5" y2="693.1" stroke="#000" stroke-width="1.25"/>
<line x1="272.7" y1="692.5" x2="277.5" y2="692.5" stroke="#000" stroke-width="1.1"/>
<text x="267.5" y="695.6" font-size="10.3" text-anchor="end" fill="#000" stroke="#000" stroke-width="0.15">0</text>
<line x1="272.7" y1="668.5" x2="277.5" y2="668.5" stroke="#000" stroke-width="1.1"/>
<text x="267.5" y="672.5" font-size="10.3" text-anchor="end" fill="#000" stroke="#000" stroke-width="0.15">1</text>
<line x1="272.7" y1="645.5" x2="277.5" y2="645.5" stroke="#000" stroke-width="1.1"/>
<text x="267.5" y="649.4" font-size="10.3" text-anchor="end" fill="#000" stroke="#000" stroke-width="0.15">2</text>
<line x1="274.7" y1="680.5" x2="277.5" y2="680.5" stroke="#000" stroke-width="1.1"/>
<line x1="274.7" y1="657.5" x2="277.5" y2="657.5" stroke="#000" stroke-width="1.1"/>
<line x1="274.7" y1="634.5" x2="277.5" y2="634.5" stroke="#000" stroke-width="1.1"/>
<line x1="276.9" y1="692.5" x2="439.3" y2="692.5" stroke="#000" stroke-width="1.25"/>
<line x1="277.5" y1="692.5" x2="277.5" y2="697.3" stroke="#000" stroke-width="1.1"/>
<line x1="284.5" y1="692.5" x2="284.5" y2="695.3" stroke="#000" stroke-width="1.1"/>
<line x1="290.5" y1="692.5" x2="290.5" y2="695.3" stroke="#000" stroke-width="1.1"/>
<line x1="297.5" y1="692.5" x2="297.5" y2="695.3" stroke="#000" stroke-width="1.1"/>
<line x1="303.5" y1="692.5" x2="303.5" y2="695.3" stroke="#000" stroke-width="1.1"/>
<line x1="309.5" y1="692.5" x2="309.5" y2="697.3" stroke="#000" stroke-width="1.1"/>
<line x1="316.5" y1="692.5" x2="316.5" y2="695.3" stroke="#000" stroke-width="1.1"/>
<line x1="322.5" y1="692.5" x2="322.5" y2="695.3" stroke="#000" stroke-width="1.1"/>
<line x1="329.5" y1="692.5" x2="329.5" y2="695.3" stroke="#000" stroke-width="1.1"/>
<line x1="335.5" y1="692.5" x2="335.5" y2="695.3" stroke="#000" stroke-width="1.1"/>
<line x1="341.5" y1="692.5" x2="341.5" y2="697.3" stroke="#000" stroke-width="1.1"/>
<line x1="348.5" y1="692.5" x2="348.5" y2="695.3" stroke="#000" stroke-width="1.1"/>
<line x1="354.5" y1="692.5" x2="354.5" y2="695.3" stroke="#000" stroke-width="1.1"/>
<line x1="361.5" y1="692.5" x2="361.5" y2="695.3" stroke="#000" stroke-width="1.1"/>
<line x1="367.5" y1="692.5" x2="367.5" y2="695.3" stroke="#000" stroke-width="1.1"/>
<line x1="373.5" y1="692.5" x2="373.5" y2="697.3" stroke="#000" stroke-width="1.1"/>
<line x1="380.5" y1="692.5" x2="380.5" y2="695.3" stroke="#000" stroke-width="1.1"/>
<line x1="386.5" y1="692.5" x2="386.5" y2="695.3" stroke="#000" stroke-width="1.1"/>
<line x1="393.5" y1="692.5" x2="393.5" y2="695.3" stroke="#000" stroke-width="1.1"/>
<line x1="399.5" y1="692.5" x2="399.5" y2="695.3" stroke="#000" stroke-width="1.1"/>
<line x1="405.5" y1="692.5" x2="405.5" y2="697.3" stroke="#000" stroke-width="1.1"/>
<line x1="412.5" y1="692.5" x2="412.5" y2="695.3" stroke="#000" stroke-width="1.1"/>
<line x1="418.5" y1="692.5" x2="418.5" y2="695.3" stroke="#000" stroke-width="1.1"/>
<line x1="425.5" y1="692.5" x2="425.5" y2="695.3" stroke="#000" stroke-width="1.1"/>
<line x1="431.5" y1="692.5" x2="431.5" y2="695.3" stroke="#000" stroke-width="1.1"/>
<line x1="437.5" y1="692.5" x2="437.5" y2="697.3" stroke="#000" stroke-width="1.1"/>
<text x="277.8" y="710.2" font-size="10.3" text-anchor="middle" fill="#000" stroke="#000" stroke-width="0.15">-500</text>
<text x="309.8" y="710.2" font-size="10.3" text-anchor="middle" fill="#000" stroke="#000" stroke-width="0.15">-1/1</text>
<text x="341.8" y="710.2" font-size="10.3" text-anchor="middle" fill="#000" stroke="#000" stroke-width="0.15">500</text>
<text x="373.8" y="710.2" font-size="10.3" text-anchor="middle" fill="#000" stroke="#000" stroke-width="0.15">1000</text>
<text x="405.8" y="710.2" font-size="10.3" text-anchor="middle" fill="#000" stroke="#000" stroke-width="0.15">1500</text>
<text x="437.8" y="710.2" font-size="10.3" text-anchor="middle" fill="#000" stroke="#000" stroke-width="0.15">2000</text>
<text transform="translate(17.6,54.15) rotate(-90)" font-size="13.33" text-anchor="middle" stroke="#000" stroke-width="0.15">height [cm]</text>
<text transform="translate(18.2,167.35) rotate(-90)" font-size="13.33" text-anchor="middle" stroke="#000" stroke-width="0.15">MAMB</text>
<text transform="translate(34,167.35) rotate(-90)" font-size="13.33" text-anchor="middle" stroke="#000" stroke-width="0.15">[cm we yr<tspan font-size="10.5" dy="-4" dx="0.6">&#8722;</tspan><tspan font-size="9.5" dx="1.6">1</tspan><tspan dy="4" dx="0.8">]</tspan></text>
<text transform="translate(17.6,299.1) rotate(-90)" font-size="13.33" text-anchor="middle" stroke="#000" stroke-width="0.15">height [cm]</text>
<text transform="translate(12.2,412.6) rotate(-90)" font-size="13.33" text-anchor="middle" stroke="#000" stroke-width="0.15">MAMB</text>
<text transform="translate(28,412.6) rotate(-90)" font-size="13.33" text-anchor="middle" stroke="#000" stroke-width="0.15">[cm we yr<tspan font-size="10.5" dy="-4" dx="0.6">&#8722;</tspan><tspan font-size="9.5" dx="1.6">1</tspan><tspan dy="4" dx="0.8">]</tspan></text>
<text transform="translate(23.4,544.25) rotate(-90)" font-size="13.33" text-anchor="middle" stroke="#000" stroke-width="0.15">height [cm]</text>
<text transform="translate(18.2,657.7) rotate(-90)" font-size="13.33" text-anchor="middle" stroke="#000" stroke-width="0.15">MAMB</text>
<text transform="translate(34,657.7) rotate(-90)" font-size="13.33" text-anchor="middle" stroke="#000" stroke-width="0.15">[cm we yr<tspan font-size="10.5" dy="-4" dx="0.6">&#8722;</tspan><tspan font-size="9.5" dx="1.6">1</tspan><tspan dy="4" dx="0.8">]</tspan></text>
<text x="140" y="726.5" font-size="13.33" text-anchor="middle" fill="#000" stroke="#000" stroke-width="0.15">Date BCE/CE</text>
<text x="358.4" y="726.5" font-size="13.33" text-anchor="middle" fill="#000" stroke="#000" stroke-width="0.15">Date BCE/CE</text>
<text x="576.9" y="481.9" font-size="13.33" text-anchor="middle" fill="#000" stroke="#000" stroke-width="0.15">Date BCE/CE</text>
</svg>
</body></html>
